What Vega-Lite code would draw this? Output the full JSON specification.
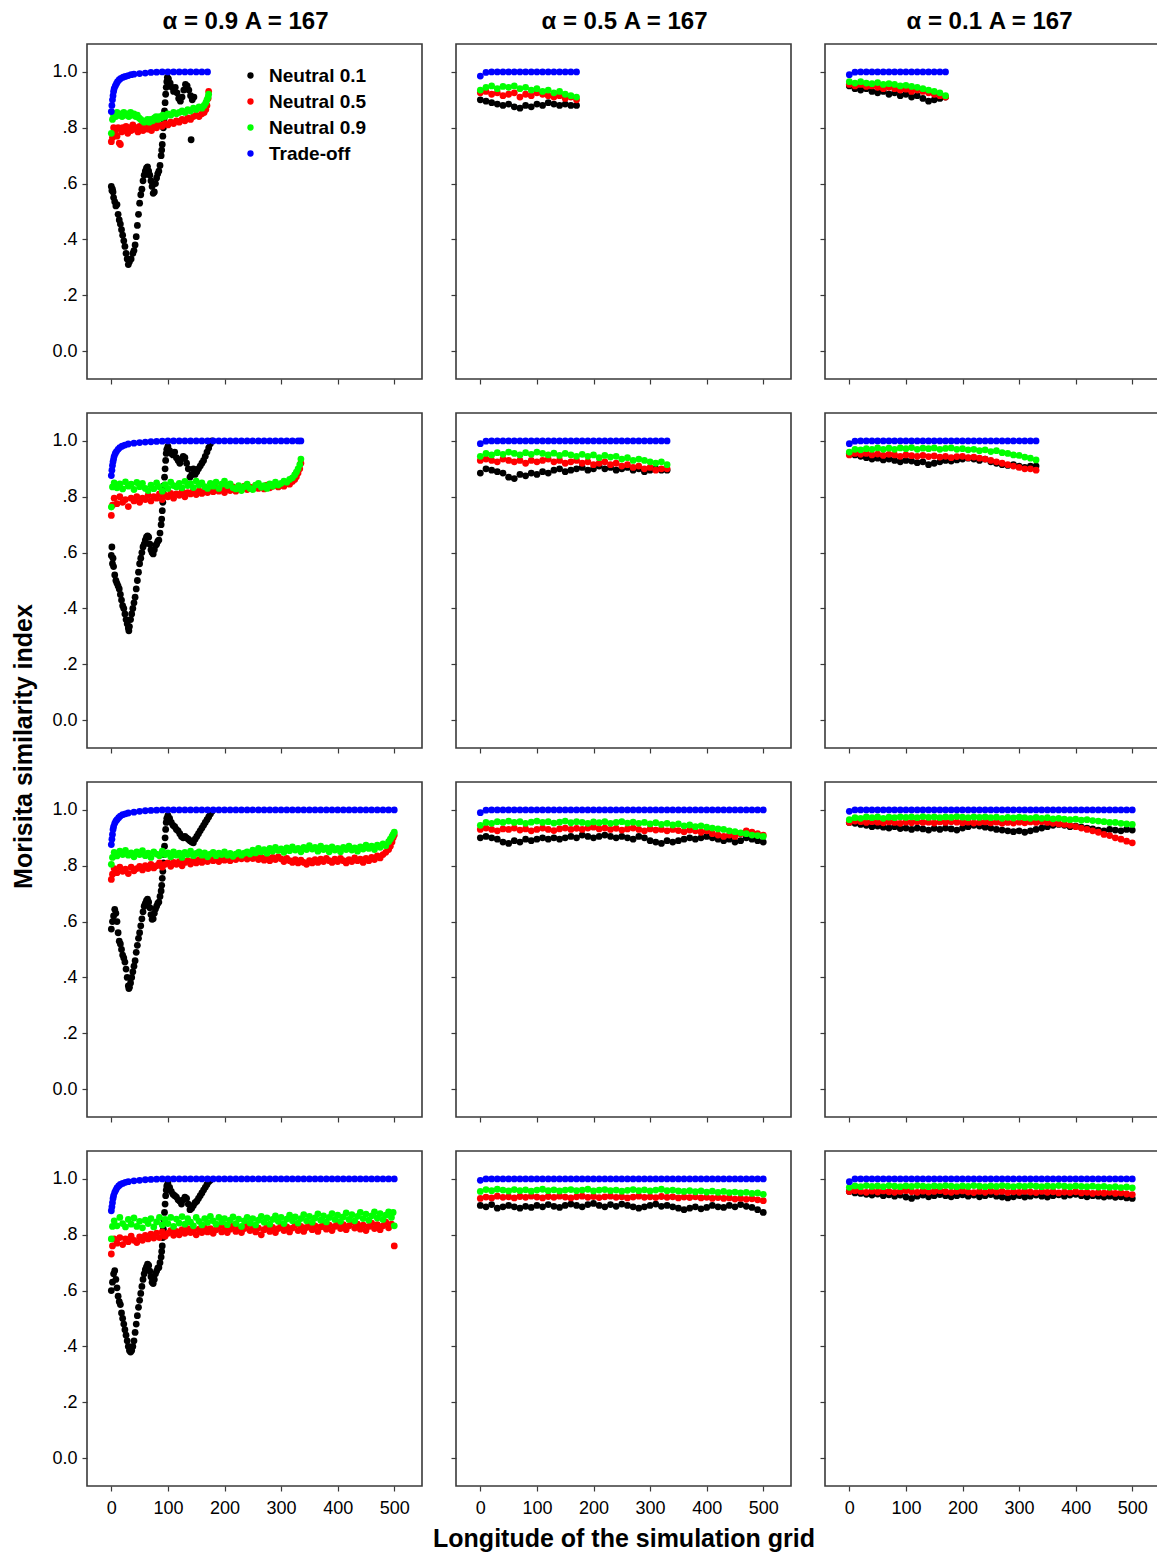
{
"$schema": "https://vega.github.io/schema/vega-lite/v6.json",
"padding": {"left": 10, "top": 9, "right": 0, "bottom": 0},
"background": "white",
"columns": 3,
"spacing": 34,
"bounds": "flush",
"config": {
  "view": {"stroke": "#3a3a3a", "strokeWidth": 1.6},
  "range": {"category": ["#000000", "#ff0000", "#00ff00", "#0000ff"]},
  "circle": {"size": 46, "opacity": 1},
  "axis": {"domain": false, "grid": false, "tickSize": 5, "tickColor": "#3a3a3a", "tickWidth": 1.2, "labelFont": "Liberation Sans", "labelFontSize": 18, "labelColor": "#000000", "labelPadding": 5, "titleFont": "Liberation Sans", "titleFontSize": 25, "titleFontWeight": "bold", "titleColor": "#000000"},
  "legend": {"padding": 0, "labelFont": "Liberation Sans", "labelFontSize": 19, "labelFontWeight": "bold", "labelColor": "#000000", "symbolType": "circle", "symbolSize": 40, "symbolStrokeWidth": 0, "labelOffset": 9, "rowPadding": 6},
  "title": {"font": "Liberation Sans", "fontSize": 24, "fontWeight": "bold", "color": "#000000", "anchor": "middle", "offset": 10}
},
"concat": [
{"data": {"name": "p11"}, "width": 335, "height": 335, "title": {"text": "α = 0.9 A = 167", "dx": -9}, "mark": "circle",
 "encoding": {"x": {"field": "x", "type": "quantitative", "scale": {"domain": [-43, 549], "nice": false, "zero": false}, "axis": {"values": [0,100,200,300,400,500], "labels": false, "title": null}},
  "y": {"field": "y", "type": "quantitative", "scale": {"domain": [-0.1, 1.1], "nice": false, "zero": false}, "axis": {"values": [0,0.2,0.4,0.6,0.8,1], "labelExpr": "datum.value == 0 ? '0.0' : datum.value == 1 ? '1.0' : '.' + round(datum.value * 10)", "title": null}},
  "color": {"field": "s", "type": "nominal", "title": null, "legend": {"orient": "none", "legendX": 154, "legendY": 22, "labelExpr": "datum.label == 'n1' ? 'Neutral 0.1' : datum.label == 'n5' ? 'Neutral 0.5' : datum.label == 'n9' ? 'Neutral 0.9' : 'Trade-off'"}}}},
{"data": {"name": "p12"}, "width": 335, "height": 335, "title": {"text": "α = 0.5 A = 167", "dx": 1}, "mark": "circle",
 "encoding": {"x": {"field": "x", "type": "quantitative", "scale": {"domain": [-43, 549], "nice": false, "zero": false}, "axis": {"values": [0,100,200,300,400,500], "labels": false, "title": null}},
  "y": {"field": "y", "type": "quantitative", "scale": {"domain": [-0.1, 1.1], "nice": false, "zero": false}, "axis": {"values": [0,0.2,0.4,0.6,0.8,1], "labels": false, "title": null}},
  "color": {"field": "s", "type": "nominal", "title": null, "legend": {"orient": "none", "legendX": 154, "legendY": 22, "labelExpr": "datum.label == 'n1' ? 'Neutral 0.1' : datum.label == 'n5' ? 'Neutral 0.5' : datum.label == 'n9' ? 'Neutral 0.9' : 'Trade-off'"}}}},
{"data": {"name": "p13"}, "width": 335, "height": 335, "title": {"text": "α = 0.1 A = 167", "dx": -3}, "mark": "circle",
 "encoding": {"x": {"field": "x", "type": "quantitative", "scale": {"domain": [-43, 549], "nice": false, "zero": false}, "axis": {"values": [0,100,200,300,400,500], "labels": false, "title": null}},
  "y": {"field": "y", "type": "quantitative", "scale": {"domain": [-0.1, 1.1], "nice": false, "zero": false}, "axis": {"values": [0,0.2,0.4,0.6,0.8,1], "labels": false, "title": null}},
  "color": {"field": "s", "type": "nominal", "title": null, "legend": {"orient": "none", "legendX": 154, "legendY": 22, "labelExpr": "datum.label == 'n1' ? 'Neutral 0.1' : datum.label == 'n5' ? 'Neutral 0.5' : datum.label == 'n9' ? 'Neutral 0.9' : 'Trade-off'"}}}},
{"data": {"name": "p21"}, "width": 335, "height": 335, "mark": "circle",
 "encoding": {"x": {"field": "x", "type": "quantitative", "scale": {"domain": [-43, 549], "nice": false, "zero": false}, "axis": {"values": [0,100,200,300,400,500], "labels": false, "title": null}},
  "y": {"field": "y", "type": "quantitative", "scale": {"domain": [-0.1, 1.1], "nice": false, "zero": false}, "axis": {"values": [0,0.2,0.4,0.6,0.8,1], "labelExpr": "datum.value == 0 ? '0.0' : datum.value == 1 ? '1.0' : '.' + round(datum.value * 10)", "title": "Morisita similarity index", "titleX": -64, "titleY": 333, "titleBaseline": "middle", "titleAlign": "center", "titleAngle": 270}},
  "color": {"field": "s", "type": "nominal", "title": null, "legend": {"orient": "none", "legendX": 154, "legendY": 22, "labelExpr": "datum.label == 'n1' ? 'Neutral 0.1' : datum.label == 'n5' ? 'Neutral 0.5' : datum.label == 'n9' ? 'Neutral 0.9' : 'Trade-off'"}}}},
{"data": {"name": "p22"}, "width": 335, "height": 335, "mark": "circle",
 "encoding": {"x": {"field": "x", "type": "quantitative", "scale": {"domain": [-43, 549], "nice": false, "zero": false}, "axis": {"values": [0,100,200,300,400,500], "labels": false, "title": null}},
  "y": {"field": "y", "type": "quantitative", "scale": {"domain": [-0.1, 1.1], "nice": false, "zero": false}, "axis": {"values": [0,0.2,0.4,0.6,0.8,1], "labels": false, "title": null}},
  "color": {"field": "s", "type": "nominal", "title": null, "legend": {"orient": "none", "legendX": 154, "legendY": 22, "labelExpr": "datum.label == 'n1' ? 'Neutral 0.1' : datum.label == 'n5' ? 'Neutral 0.5' : datum.label == 'n9' ? 'Neutral 0.9' : 'Trade-off'"}}}},
{"data": {"name": "p23"}, "width": 335, "height": 335, "mark": "circle",
 "encoding": {"x": {"field": "x", "type": "quantitative", "scale": {"domain": [-43, 549], "nice": false, "zero": false}, "axis": {"values": [0,100,200,300,400,500], "labels": false, "title": null}},
  "y": {"field": "y", "type": "quantitative", "scale": {"domain": [-0.1, 1.1], "nice": false, "zero": false}, "axis": {"values": [0,0.2,0.4,0.6,0.8,1], "labels": false, "title": null}},
  "color": {"field": "s", "type": "nominal", "title": null, "legend": {"orient": "none", "legendX": 154, "legendY": 22, "labelExpr": "datum.label == 'n1' ? 'Neutral 0.1' : datum.label == 'n5' ? 'Neutral 0.5' : datum.label == 'n9' ? 'Neutral 0.9' : 'Trade-off'"}}}},
{"data": {"name": "p31"}, "width": 335, "height": 335, "mark": "circle",
 "encoding": {"x": {"field": "x", "type": "quantitative", "scale": {"domain": [-43, 549], "nice": false, "zero": false}, "axis": {"values": [0,100,200,300,400,500], "labels": false, "title": null}},
  "y": {"field": "y", "type": "quantitative", "scale": {"domain": [-0.1, 1.1], "nice": false, "zero": false}, "axis": {"values": [0,0.2,0.4,0.6,0.8,1], "labelExpr": "datum.value == 0 ? '0.0' : datum.value == 1 ? '1.0' : '.' + round(datum.value * 10)", "title": null}},
  "color": {"field": "s", "type": "nominal", "title": null, "legend": {"orient": "none", "legendX": 154, "legendY": 22, "labelExpr": "datum.label == 'n1' ? 'Neutral 0.1' : datum.label == 'n5' ? 'Neutral 0.5' : datum.label == 'n9' ? 'Neutral 0.9' : 'Trade-off'"}}}},
{"data": {"name": "p32"}, "width": 335, "height": 335, "mark": "circle",
 "encoding": {"x": {"field": "x", "type": "quantitative", "scale": {"domain": [-43, 549], "nice": false, "zero": false}, "axis": {"values": [0,100,200,300,400,500], "labels": false, "title": null}},
  "y": {"field": "y", "type": "quantitative", "scale": {"domain": [-0.1, 1.1], "nice": false, "zero": false}, "axis": {"values": [0,0.2,0.4,0.6,0.8,1], "labels": false, "title": null}},
  "color": {"field": "s", "type": "nominal", "title": null, "legend": {"orient": "none", "legendX": 154, "legendY": 22, "labelExpr": "datum.label == 'n1' ? 'Neutral 0.1' : datum.label == 'n5' ? 'Neutral 0.5' : datum.label == 'n9' ? 'Neutral 0.9' : 'Trade-off'"}}}},
{"data": {"name": "p33"}, "width": 335, "height": 335, "mark": "circle",
 "encoding": {"x": {"field": "x", "type": "quantitative", "scale": {"domain": [-43, 549], "nice": false, "zero": false}, "axis": {"values": [0,100,200,300,400,500], "labels": false, "title": null}},
  "y": {"field": "y", "type": "quantitative", "scale": {"domain": [-0.1, 1.1], "nice": false, "zero": false}, "axis": {"values": [0,0.2,0.4,0.6,0.8,1], "labels": false, "title": null}},
  "color": {"field": "s", "type": "nominal", "title": null, "legend": {"orient": "none", "legendX": 154, "legendY": 22, "labelExpr": "datum.label == 'n1' ? 'Neutral 0.1' : datum.label == 'n5' ? 'Neutral 0.5' : datum.label == 'n9' ? 'Neutral 0.9' : 'Trade-off'"}}}},
{"data": {"name": "p41"}, "width": 335, "height": 335, "mark": "circle",
 "encoding": {"x": {"field": "x", "type": "quantitative", "scale": {"domain": [-43, 549], "nice": false, "zero": false}, "axis": {"values": [0,100,200,300,400,500], "title": null, "labelPadding": 8}},
  "y": {"field": "y", "type": "quantitative", "scale": {"domain": [-0.1, 1.1], "nice": false, "zero": false}, "axis": {"values": [0,0.2,0.4,0.6,0.8,1], "labelExpr": "datum.value == 0 ? '0.0' : datum.value == 1 ? '1.0' : '.' + round(datum.value * 10)", "title": null}},
  "color": {"field": "s", "type": "nominal", "title": null, "legend": {"orient": "none", "legendX": 154, "legendY": 22, "labelExpr": "datum.label == 'n1' ? 'Neutral 0.1' : datum.label == 'n5' ? 'Neutral 0.5' : datum.label == 'n9' ? 'Neutral 0.9' : 'Trade-off'"}}}},
{"data": {"name": "p42"}, "width": 335, "height": 335, "mark": "circle",
 "encoding": {"x": {"field": "x", "type": "quantitative", "scale": {"domain": [-43, 549], "nice": false, "zero": false}, "axis": {"values": [0,100,200,300,400,500], "labelPadding": 8, "title": "Longitude of the simulation grid", "titleY": 52, "titleBaseline": "middle"}},
  "y": {"field": "y", "type": "quantitative", "scale": {"domain": [-0.1, 1.1], "nice": false, "zero": false}, "axis": {"values": [0,0.2,0.4,0.6,0.8,1], "labels": false, "title": null}},
  "color": {"field": "s", "type": "nominal", "title": null, "legend": {"orient": "none", "legendX": 154, "legendY": 22, "labelExpr": "datum.label == 'n1' ? 'Neutral 0.1' : datum.label == 'n5' ? 'Neutral 0.5' : datum.label == 'n9' ? 'Neutral 0.9' : 'Trade-off'"}}}},
{"data": {"name": "p43"}, "width": 335, "height": 335, "mark": "circle",
 "encoding": {"x": {"field": "x", "type": "quantitative", "scale": {"domain": [-43, 549], "nice": false, "zero": false}, "axis": {"values": [0,100,200,300,400,500], "labelPadding": 8, "title": null}},
  "y": {"field": "y", "type": "quantitative", "scale": {"domain": [-0.1, 1.1], "nice": false, "zero": false}, "axis": {"values": [0,0.2,0.4,0.6,0.8,1], "labels": false, "title": null}},
  "color": {"field": "s", "type": "nominal", "title": null, "legend": {"orient": "none", "legendX": 154, "legendY": 22, "labelExpr": "datum.label == 'n1' ? 'Neutral 0.1' : datum.label == 'n5' ? 'Neutral 0.5' : datum.label == 'n9' ? 'Neutral 0.9' : 'Trade-off'"}}}}
],
"datasets": {
"p11": [
{"s":"n1","x":0,"y":0.59},{"s":"n1","x":1,"y":0.575},{"s":"n1","x":2,"y":0.58},{"s":"n1","x":3,"y":0.57},{"s":"n1","x":4,"y":0.55},{"s":"n1","x":6,"y":0.535},{"s":"n1","x":8,"y":0.52},{"s":"n1","x":10,"y":0.525},{"s":"n1","x":12,"y":0.49},{"s":"n1","x":14,"y":0.47},{"s":"n1","x":16,"y":0.455},{"s":"n1","x":18,"y":0.435},{"s":"n1","x":20,"y":0.415},{"s":"n1","x":22,"y":0.395},{"s":"n1","x":24,"y":0.375},{"s":"n1","x":26,"y":0.35},{"s":"n1","x":28,"y":0.33},{"s":"n1","x":30,"y":0.31},{"s":"n1","x":32,"y":0.32},{"s":"n1","x":35,"y":0.33},{"s":"n1","x":38,"y":0.35},{"s":"n1","x":40,"y":0.36},{"s":"n1","x":42,"y":0.38},{"s":"n1","x":44,"y":0.41},{"s":"n1","x":46,"y":0.45},{"s":"n1","x":48,"y":0.49},{"s":"n1","x":50,"y":0.53},{"s":"n1","x":52,"y":0.56},{"s":"n1","x":54,"y":0.58},{"s":"n1","x":56,"y":0.61},{"s":"n1","x":58,"y":0.63},{"s":"n1","x":60,"y":0.645},{"s":"n1","x":62,"y":0.655},{"s":"n1","x":64,"y":0.66},{"s":"n1","x":66,"y":0.645},{"s":"n1","x":68,"y":0.63},{"s":"n1","x":70,"y":0.61},{"s":"n1","x":72,"y":0.59},{"s":"n1","x":74,"y":0.565},{"s":"n1","x":76,"y":0.57},{"s":"n1","x":78,"y":0.6},{"s":"n1","x":80,"y":0.62},{"s":"n1","x":82,"y":0.635},{"s":"n1","x":84,"y":0.645},{"s":"n1","x":86,"y":0.665},{"s":"n1","x":88,"y":0.7},{"s":"n1","x":89,"y":0.72},{"s":"n1","x":90,"y":0.74},{"s":"n1","x":91,"y":0.77},{"s":"n1","x":92,"y":0.8},{"s":"n1","x":93,"y":0.83},{"s":"n1","x":94,"y":0.86},{"s":"n1","x":95,"y":0.89},{"s":"n1","x":96,"y":0.92},{"s":"n1","x":97,"y":0.945},{"s":"n1","x":98,"y":0.965},{"s":"n1","x":99,"y":0.98},{"s":"n1","x":101,"y":0.975},{"s":"n1","x":104,"y":0.96},{"s":"n1","x":107,"y":0.945},{"s":"n1","x":110,"y":0.93},{"s":"n1","x":113,"y":0.945},{"s":"n1","x":116,"y":0.925},{"s":"n1","x":119,"y":0.905},{"s":"n1","x":122,"y":0.895},{"s":"n1","x":125,"y":0.91},{"s":"n1","x":128,"y":0.935},{"s":"n1","x":131,"y":0.955},{"s":"n1","x":134,"y":0.95},{"s":"n1","x":137,"y":0.935},{"s":"n1","x":140,"y":0.915},{"s":"n1","x":141,"y":0.757},{"s":"n1","x":143,"y":0.9},{"s":"n1","x":146,"y":0.91},
{"s":"n5","x":0,"y":0.75},{"s":"n5","x":2,"y":0.765},{"s":"n5","x":4,"y":0.8},{"s":"n5","x":6,"y":0.78},{"s":"n5","x":8,"y":0.795},{"s":"n5","x":10,"y":0.77},{"s":"n5","x":12,"y":0.8},{"s":"n5","x":14,"y":0.745},{"s":"n5","x":16,"y":0.74},{"s":"n5","x":18,"y":0.785},{"s":"n5","x":20,"y":0.8},{"s":"n5","x":23,"y":0.79},{"s":"n5","x":26,"y":0.805},{"s":"n5","x":29,"y":0.78},{"s":"n5","x":32,"y":0.8},{"s":"n5","x":35,"y":0.79},{"s":"n5","x":38,"y":0.81},{"s":"n5","x":41,"y":0.795},{"s":"n5","x":44,"y":0.8},{"s":"n5","x":47,"y":0.785},{"s":"n5","x":50,"y":0.805},{"s":"n5","x":53,"y":0.795},{"s":"n5","x":56,"y":0.79},{"s":"n5","x":59,"y":0.8},{"s":"n5","x":62,"y":0.81},{"s":"n5","x":65,"y":0.795},{"s":"n5","x":68,"y":0.8},{"s":"n5","x":71,"y":0.79},{"s":"n5","x":74,"y":0.805},{"s":"n5","x":77,"y":0.81},{"s":"n5","x":80,"y":0.8},{"s":"n5","x":85,"y":0.81},{"s":"n5","x":90,"y":0.805},{"s":"n5","x":95,"y":0.815},{"s":"n5","x":100,"y":0.81},{"s":"n5","x":105,"y":0.82},{"s":"n5","x":110,"y":0.815},{"s":"n5","x":115,"y":0.825},{"s":"n5","x":120,"y":0.82},{"s":"n5","x":125,"y":0.83},{"s":"n5","x":130,"y":0.825},{"s":"n5","x":135,"y":0.835},{"s":"n5","x":140,"y":0.83},{"s":"n5","x":145,"y":0.84},{"s":"n5","x":150,"y":0.845},{"s":"n5","x":155,"y":0.84},{"s":"n5","x":160,"y":0.85},{"s":"n5","x":164,"y":0.855},{"s":"n5","x":167,"y":0.865},{"s":"n5","x":169,"y":0.88},{"s":"n5","x":171,"y":0.905},{"s":"n5","x":172,"y":0.93},
{"s":"n9","x":0,"y":0.78},{"s":"n9","x":2,"y":0.83},{"s":"n9","x":4,"y":0.845},{"s":"n9","x":6,"y":0.85},{"s":"n9","x":8,"y":0.84},{"s":"n9","x":10,"y":0.855},{"s":"n9","x":13,"y":0.845},{"s":"n9","x":16,"y":0.85},{"s":"n9","x":19,"y":0.84},{"s":"n9","x":22,"y":0.855},{"s":"n9","x":25,"y":0.845},{"s":"n9","x":28,"y":0.85},{"s":"n9","x":31,"y":0.84},{"s":"n9","x":34,"y":0.855},{"s":"n9","x":37,"y":0.845},{"s":"n9","x":40,"y":0.85},{"s":"n9","x":43,"y":0.84},{"s":"n9","x":46,"y":0.845},{"s":"n9","x":49,"y":0.835},{"s":"n9","x":52,"y":0.83},{"s":"n9","x":55,"y":0.825},{"s":"n9","x":58,"y":0.82},{"s":"n9","x":61,"y":0.825},{"s":"n9","x":64,"y":0.83},{"s":"n9","x":67,"y":0.82},{"s":"n9","x":70,"y":0.83},{"s":"n9","x":73,"y":0.825},{"s":"n9","x":76,"y":0.835},{"s":"n9","x":79,"y":0.84},{"s":"n9","x":82,"y":0.83},{"s":"n9","x":85,"y":0.84},{"s":"n9","x":88,"y":0.835},{"s":"n9","x":91,"y":0.845},{"s":"n9","x":95,"y":0.84},{"s":"n9","x":100,"y":0.85},{"s":"n9","x":105,"y":0.845},{"s":"n9","x":110,"y":0.855},{"s":"n9","x":115,"y":0.85},{"s":"n9","x":120,"y":0.855},{"s":"n9","x":125,"y":0.86},{"s":"n9","x":130,"y":0.855},{"s":"n9","x":135,"y":0.865},{"s":"n9","x":140,"y":0.86},{"s":"n9","x":145,"y":0.87},{"s":"n9","x":150,"y":0.865},{"s":"n9","x":155,"y":0.875},{"s":"n9","x":160,"y":0.87},{"s":"n9","x":164,"y":0.88},{"s":"n9","x":167,"y":0.89},{"s":"n9","x":169,"y":0.9},{"s":"n9","x":171,"y":0.91},{"s":"n9","x":172,"y":0.92},
{"s":"t","x":0,"y":0.858},{"s":"t","x":1,"y":0.88},{"s":"t","x":2,"y":0.9},{"s":"t","x":3,"y":0.915},{"s":"t","x":4,"y":0.93},{"s":"t","x":5,"y":0.94},{"s":"t","x":7,"y":0.95},{"s":"t","x":9,"y":0.958},{"s":"t","x":11,"y":0.965},{"s":"t","x":14,"y":0.972},{"s":"t","x":17,"y":0.977},{"s":"t","x":21,"y":0.981},{"s":"t","x":25,"y":0.984},{"s":"t","x":30,"y":0.987},{"s":"t","x":35,"y":0.99},{"s":"t","x":40,"y":0.992},{"s":"t","x":50,"y":0.994},{"s":"t","x":60,"y":0.996},{"s":"t","x":70,"y":0.998},{"s":"t","x":80,"y":0.999},{"s":"t","x":90,"y":1},{"s":"t","x":100,"y":1},{"s":"t","x":110,"y":1},{"s":"t","x":120,"y":1},{"s":"t","x":130,"y":1},{"s":"t","x":140,"y":1},{"s":"t","x":150,"y":1},{"s":"t","x":160,"y":1},{"s":"t","x":170,"y":1}
],
"p12": [
{"s":"n1","x":0,"y":0.9},{"s":"n1","x":10,"y":0.895},{"s":"n1","x":20,"y":0.89},{"s":"n1","x":30,"y":0.885},{"s":"n1","x":40,"y":0.88},{"s":"n1","x":50,"y":0.885},{"s":"n1","x":60,"y":0.875},{"s":"n1","x":70,"y":0.87},{"s":"n1","x":80,"y":0.88},{"s":"n1","x":90,"y":0.875},{"s":"n1","x":100,"y":0.885},{"s":"n1","x":110,"y":0.88},{"s":"n1","x":120,"y":0.89},{"s":"n1","x":130,"y":0.885},{"s":"n1","x":140,"y":0.88},{"s":"n1","x":150,"y":0.885},{"s":"n1","x":160,"y":0.88},{"s":"n1","x":170,"y":0.88},
{"s":"n5","x":0,"y":0.925},{"s":"n5","x":10,"y":0.93},{"s":"n5","x":20,"y":0.92},{"s":"n5","x":30,"y":0.925},{"s":"n5","x":40,"y":0.915},{"s":"n5","x":50,"y":0.92},{"s":"n5","x":60,"y":0.925},{"s":"n5","x":70,"y":0.91},{"s":"n5","x":80,"y":0.92},{"s":"n5","x":90,"y":0.915},{"s":"n5","x":100,"y":0.925},{"s":"n5","x":110,"y":0.92},{"s":"n5","x":120,"y":0.915},{"s":"n5","x":130,"y":0.91},{"s":"n5","x":140,"y":0.915},{"s":"n5","x":150,"y":0.905},{"s":"n5","x":160,"y":0.91},{"s":"n5","x":170,"y":0.9},
{"s":"n9","x":0,"y":0.935},{"s":"n9","x":10,"y":0.945},{"s":"n9","x":20,"y":0.95},{"s":"n9","x":30,"y":0.94},{"s":"n9","x":40,"y":0.948},{"s":"n9","x":50,"y":0.945},{"s":"n9","x":60,"y":0.95},{"s":"n9","x":70,"y":0.94},{"s":"n9","x":80,"y":0.945},{"s":"n9","x":90,"y":0.935},{"s":"n9","x":100,"y":0.94},{"s":"n9","x":110,"y":0.93},{"s":"n9","x":120,"y":0.935},{"s":"n9","x":130,"y":0.925},{"s":"n9","x":140,"y":0.93},{"s":"n9","x":150,"y":0.92},{"s":"n9","x":160,"y":0.915},{"s":"n9","x":170,"y":0.91},
{"s":"t","x":0,"y":0.985},{"s":"t","x":10,"y":0.998},{"s":"t","x":20,"y":1},{"s":"t","x":30,"y":1},{"s":"t","x":40,"y":1},{"s":"t","x":50,"y":1},{"s":"t","x":60,"y":1},{"s":"t","x":70,"y":1},{"s":"t","x":80,"y":1},{"s":"t","x":90,"y":1},{"s":"t","x":100,"y":1},{"s":"t","x":110,"y":1},{"s":"t","x":120,"y":1},{"s":"t","x":130,"y":1},{"s":"t","x":140,"y":1},{"s":"t","x":150,"y":1},{"s":"t","x":160,"y":1},{"s":"t","x":170,"y":1}
],
"p13": [
{"s":"n1","x":0,"y":0.95},{"s":"n1","x":10,"y":0.94},{"s":"n1","x":20,"y":0.935},{"s":"n1","x":30,"y":0.94},{"s":"n1","x":40,"y":0.93},{"s":"n1","x":50,"y":0.925},{"s":"n1","x":60,"y":0.93},{"s":"n1","x":70,"y":0.92},{"s":"n1","x":80,"y":0.925},{"s":"n1","x":90,"y":0.915},{"s":"n1","x":100,"y":0.92},{"s":"n1","x":110,"y":0.91},{"s":"n1","x":120,"y":0.915},{"s":"n1","x":130,"y":0.905},{"s":"n1","x":140,"y":0.895},{"s":"n1","x":150,"y":0.9},{"s":"n1","x":160,"y":0.905},{"s":"n1","x":170,"y":0.91},
{"s":"n5","x":0,"y":0.955},{"s":"n5","x":10,"y":0.95},{"s":"n5","x":20,"y":0.955},{"s":"n5","x":30,"y":0.948},{"s":"n5","x":40,"y":0.95},{"s":"n5","x":50,"y":0.945},{"s":"n5","x":60,"y":0.94},{"s":"n5","x":70,"y":0.945},{"s":"n5","x":80,"y":0.94},{"s":"n5","x":90,"y":0.935},{"s":"n5","x":100,"y":0.938},{"s":"n5","x":110,"y":0.93},{"s":"n5","x":120,"y":0.935},{"s":"n5","x":130,"y":0.93},{"s":"n5","x":140,"y":0.925},{"s":"n5","x":150,"y":0.92},{"s":"n5","x":160,"y":0.915},{"s":"n5","x":170,"y":0.91},
{"s":"n9","x":0,"y":0.965},{"s":"n9","x":10,"y":0.96},{"s":"n9","x":20,"y":0.965},{"s":"n9","x":30,"y":0.96},{"s":"n9","x":40,"y":0.958},{"s":"n9","x":50,"y":0.962},{"s":"n9","x":60,"y":0.955},{"s":"n9","x":70,"y":0.958},{"s":"n9","x":80,"y":0.955},{"s":"n9","x":90,"y":0.95},{"s":"n9","x":100,"y":0.952},{"s":"n9","x":110,"y":0.948},{"s":"n9","x":120,"y":0.945},{"s":"n9","x":130,"y":0.94},{"s":"n9","x":140,"y":0.935},{"s":"n9","x":150,"y":0.93},{"s":"n9","x":160,"y":0.925},{"s":"n9","x":170,"y":0.915},
{"s":"t","x":0,"y":0.99},{"s":"t","x":10,"y":0.999},{"s":"t","x":20,"y":1},{"s":"t","x":30,"y":1},{"s":"t","x":40,"y":1},{"s":"t","x":50,"y":1},{"s":"t","x":60,"y":1},{"s":"t","x":70,"y":1},{"s":"t","x":80,"y":1},{"s":"t","x":90,"y":1},{"s":"t","x":100,"y":1},{"s":"t","x":110,"y":1},{"s":"t","x":120,"y":1},{"s":"t","x":130,"y":1},{"s":"t","x":140,"y":1},{"s":"t","x":150,"y":1},{"s":"t","x":160,"y":1},{"s":"t","x":170,"y":1}
],
"p21": [
{"s":"n1","x":0,"y":0.59},{"s":"n1","x":1,"y":0.62},{"s":"n1","x":2,"y":0.56},{"s":"n1","x":3,"y":0.58},{"s":"n1","x":4,"y":0.55},{"s":"n1","x":6,"y":0.52},{"s":"n1","x":8,"y":0.5},{"s":"n1","x":10,"y":0.49},{"s":"n1","x":12,"y":0.48},{"s":"n1","x":14,"y":0.47},{"s":"n1","x":16,"y":0.45},{"s":"n1","x":18,"y":0.43},{"s":"n1","x":20,"y":0.41},{"s":"n1","x":22,"y":0.4},{"s":"n1","x":24,"y":0.38},{"s":"n1","x":26,"y":0.36},{"s":"n1","x":28,"y":0.345},{"s":"n1","x":30,"y":0.33},{"s":"n1","x":31,"y":0.32},{"s":"n1","x":32,"y":0.335},{"s":"n1","x":34,"y":0.36},{"s":"n1","x":36,"y":0.38},{"s":"n1","x":38,"y":0.4},{"s":"n1","x":40,"y":0.42},{"s":"n1","x":42,"y":0.44},{"s":"n1","x":44,"y":0.47},{"s":"n1","x":46,"y":0.5},{"s":"n1","x":48,"y":0.53},{"s":"n1","x":50,"y":0.56},{"s":"n1","x":52,"y":0.58},{"s":"n1","x":54,"y":0.6},{"s":"n1","x":56,"y":0.62},{"s":"n1","x":58,"y":0.63},{"s":"n1","x":60,"y":0.645},{"s":"n1","x":62,"y":0.655},{"s":"n1","x":64,"y":0.66},{"s":"n1","x":66,"y":0.655},{"s":"n1","x":68,"y":0.63},{"s":"n1","x":70,"y":0.61},{"s":"n1","x":72,"y":0.6},{"s":"n1","x":74,"y":0.595},{"s":"n1","x":76,"y":0.61},{"s":"n1","x":78,"y":0.625},{"s":"n1","x":80,"y":0.63},{"s":"n1","x":82,"y":0.64},{"s":"n1","x":84,"y":0.645},{"s":"n1","x":86,"y":0.67},{"s":"n1","x":88,"y":0.7},{"s":"n1","x":89,"y":0.72},{"s":"n1","x":90,"y":0.75},{"s":"n1","x":91,"y":0.78},{"s":"n1","x":92,"y":0.81},{"s":"n1","x":93,"y":0.84},{"s":"n1","x":94,"y":0.87},{"s":"n1","x":95,"y":0.9},{"s":"n1","x":96,"y":0.93},{"s":"n1","x":97,"y":0.955},{"s":"n1","x":98,"y":0.97},{"s":"n1","x":100,"y":0.98},{"s":"n1","x":103,"y":0.965},{"s":"n1","x":106,"y":0.955},{"s":"n1","x":109,"y":0.95},{"s":"n1","x":112,"y":0.96},{"s":"n1","x":115,"y":0.94},{"s":"n1","x":118,"y":0.93},{"s":"n1","x":121,"y":0.92},{"s":"n1","x":124,"y":0.935},{"s":"n1","x":127,"y":0.945},{"s":"n1","x":130,"y":0.94},{"s":"n1","x":133,"y":0.92},{"s":"n1","x":136,"y":0.9},{"s":"n1","x":139,"y":0.87},{"s":"n1","x":142,"y":0.88},{"s":"n1","x":145,"y":0.9},{"s":"n1","x":148,"y":0.88},{"s":"n1","x":151,"y":0.89},{"s":"n1","x":154,"y":0.9},{"s":"n1","x":157,"y":0.91},{"s":"n1","x":160,"y":0.92},{"s":"n1","x":163,"y":0.93},{"s":"n1","x":166,"y":0.945},{"s":"n1","x":169,"y":0.96},{"s":"n1","x":172,"y":0.975},{"s":"n1","x":175,"y":0.99},{"s":"n1","x":178,"y":1},
{"s":"n5","x":0,"y":0.733},{"s":"n5","x":2,"y":0.77},{"s":"n5","x":5,"y":0.795},{"s":"n5","x":10,"y":0.775},{"s":"n5","x":15,"y":0.8},{"s":"n5","x":20,"y":0.78},{"s":"n5","x":25,"y":0.79},{"s":"n5","x":30,"y":0.765},{"s":"n5","x":35,"y":0.795},{"s":"n5","x":40,"y":0.785},{"s":"n5","x":45,"y":0.8},{"s":"n5","x":50,"y":0.78},{"s":"n5","x":55,"y":0.795},{"s":"n5","x":60,"y":0.79},{"s":"n5","x":65,"y":0.805},{"s":"n5","x":70,"y":0.785},{"s":"n5","x":75,"y":0.8},{"s":"n5","x":80,"y":0.795},{"s":"n5","x":85,"y":0.81},{"s":"n5","x":90,"y":0.79},{"s":"n5","x":95,"y":0.805},{"s":"n5","x":100,"y":0.8},{"s":"n5","x":105,"y":0.812},{"s":"n5","x":110,"y":0.795},{"s":"n5","x":115,"y":0.81},{"s":"n5","x":120,"y":0.805},{"s":"n5","x":125,"y":0.818},{"s":"n5","x":130,"y":0.8},{"s":"n5","x":135,"y":0.815},{"s":"n5","x":140,"y":0.81},{"s":"n5","x":145,"y":0.822},{"s":"n5","x":150,"y":0.808},{"s":"n5","x":155,"y":0.82},{"s":"n5","x":160,"y":0.812},{"s":"n5","x":165,"y":0.825},{"s":"n5","x":170,"y":0.815},{"s":"n5","x":175,"y":0.828},{"s":"n5","x":180,"y":0.818},{"s":"n5","x":185,"y":0.83},{"s":"n5","x":190,"y":0.82},{"s":"n5","x":195,"y":0.826},{"s":"n5","x":200,"y":0.815},{"s":"n5","x":205,"y":0.83},{"s":"n5","x":210,"y":0.822},{"s":"n5","x":215,"y":0.835},{"s":"n5","x":220,"y":0.82},{"s":"n5","x":225,"y":0.832},{"s":"n5","x":230,"y":0.825},{"s":"n5","x":235,"y":0.838},{"s":"n5","x":240,"y":0.826},{"s":"n5","x":245,"y":0.834},{"s":"n5","x":250,"y":0.828},{"s":"n5","x":255,"y":0.84},{"s":"n5","x":260,"y":0.83},{"s":"n5","x":265,"y":0.836},{"s":"n5","x":270,"y":0.828},{"s":"n5","x":275,"y":0.842},{"s":"n5","x":280,"y":0.832},{"s":"n5","x":285,"y":0.838},{"s":"n5","x":290,"y":0.845},{"s":"n5","x":295,"y":0.835},{"s":"n5","x":300,"y":0.842},{"s":"n5","x":305,"y":0.838},{"s":"n5","x":310,"y":0.848},{"s":"n5","x":315,"y":0.845},{"s":"n5","x":320,"y":0.855},{"s":"n5","x":324,"y":0.862},{"s":"n5","x":327,"y":0.872},{"s":"n5","x":330,"y":0.885},{"s":"n5","x":333,"y":0.9},{"s":"n5","x":335,"y":0.92},
{"s":"n9","x":0,"y":0.763},{"s":"n9","x":2,"y":0.835},{"s":"n9","x":5,"y":0.85},{"s":"n9","x":10,"y":0.832},{"s":"n9","x":15,"y":0.846},{"s":"n9","x":20,"y":0.828},{"s":"n9","x":25,"y":0.853},{"s":"n9","x":30,"y":0.838},{"s":"n9","x":35,"y":0.845},{"s":"n9","x":40,"y":0.826},{"s":"n9","x":45,"y":0.851},{"s":"n9","x":50,"y":0.836},{"s":"n9","x":55,"y":0.848},{"s":"n9","x":60,"y":0.83},{"s":"n9","x":65,"y":0.822},{"s":"n9","x":70,"y":0.842},{"s":"n9","x":75,"y":0.829},{"s":"n9","x":80,"y":0.85},{"s":"n9","x":85,"y":0.836},{"s":"n9","x":90,"y":0.82},{"s":"n9","x":95,"y":0.843},{"s":"n9","x":100,"y":0.83},{"s":"n9","x":105,"y":0.852},{"s":"n9","x":110,"y":0.84},{"s":"n9","x":115,"y":0.835},{"s":"n9","x":120,"y":0.848},{"s":"n9","x":125,"y":0.832},{"s":"n9","x":130,"y":0.855},{"s":"n9","x":135,"y":0.84},{"s":"n9","x":140,"y":0.847},{"s":"n9","x":145,"y":0.833},{"s":"n9","x":150,"y":0.856},{"s":"n9","x":155,"y":0.842},{"s":"n9","x":160,"y":0.85},{"s":"n9","x":165,"y":0.836},{"s":"n9","x":170,"y":0.83},{"s":"n9","x":175,"y":0.848},{"s":"n9","x":180,"y":0.838},{"s":"n9","x":185,"y":0.852},{"s":"n9","x":190,"y":0.83},{"s":"n9","x":195,"y":0.845},{"s":"n9","x":200,"y":0.856},{"s":"n9","x":205,"y":0.84},{"s":"n9","x":210,"y":0.846},{"s":"n9","x":215,"y":0.832},{"s":"n9","x":220,"y":0.828},{"s":"n9","x":225,"y":0.84},{"s":"n9","x":230,"y":0.822},{"s":"n9","x":235,"y":0.836},{"s":"n9","x":240,"y":0.845},{"s":"n9","x":245,"y":0.83},{"s":"n9","x":250,"y":0.826},{"s":"n9","x":255,"y":0.842},{"s":"n9","x":260,"y":0.848},{"s":"n9","x":265,"y":0.834},{"s":"n9","x":270,"y":0.84},{"s":"n9","x":275,"y":0.83},{"s":"n9","x":280,"y":0.846},{"s":"n9","x":285,"y":0.838},{"s":"n9","x":290,"y":0.852},{"s":"n9","x":295,"y":0.842},{"s":"n9","x":300,"y":0.848},{"s":"n9","x":305,"y":0.856},{"s":"n9","x":310,"y":0.852},{"s":"n9","x":315,"y":0.862},{"s":"n9","x":320,"y":0.868},{"s":"n9","x":324,"y":0.878},{"s":"n9","x":327,"y":0.888},{"s":"n9","x":330,"y":0.9},{"s":"n9","x":333,"y":0.915},{"s":"n9","x":335,"y":0.935},
{"s":"t","x":0,"y":0.876},{"s":"t","x":1,"y":0.895},{"s":"t","x":2,"y":0.912},{"s":"t","x":3,"y":0.925},{"s":"t","x":4,"y":0.935},{"s":"t","x":5,"y":0.945},{"s":"t","x":7,"y":0.955},{"s":"t","x":9,"y":0.962},{"s":"t","x":12,"y":0.97},{"s":"t","x":15,"y":0.976},{"s":"t","x":19,"y":0.981},{"s":"t","x":24,"y":0.985},{"s":"t","x":30,"y":0.989},{"s":"t","x":40,"y":0.992},{"s":"t","x":50,"y":0.994},{"s":"t","x":60,"y":0.996},{"s":"t","x":70,"y":0.997},{"s":"t","x":80,"y":0.998},{"s":"t","x":90,"y":0.999},{"s":"t","x":100,"y":1},{"s":"t","x":110,"y":1},{"s":"t","x":120,"y":1},{"s":"t","x":130,"y":1},{"s":"t","x":140,"y":1},{"s":"t","x":150,"y":1},{"s":"t","x":160,"y":1},{"s":"t","x":170,"y":1},{"s":"t","x":180,"y":1},{"s":"t","x":190,"y":1},{"s":"t","x":200,"y":1},{"s":"t","x":210,"y":1},{"s":"t","x":220,"y":1},{"s":"t","x":230,"y":1},{"s":"t","x":240,"y":1},{"s":"t","x":250,"y":1},{"s":"t","x":260,"y":1},{"s":"t","x":270,"y":1},{"s":"t","x":280,"y":1},{"s":"t","x":290,"y":1},{"s":"t","x":300,"y":1},{"s":"t","x":310,"y":1},{"s":"t","x":320,"y":1},{"s":"t","x":330,"y":1},{"s":"t","x":335,"y":1}
],
"p22": [
{"s":"n1","x":0,"y":0.885},{"s":"n1","x":10,"y":0.9},{"s":"n1","x":20,"y":0.895},{"s":"n1","x":30,"y":0.89},{"s":"n1","x":40,"y":0.885},{"s":"n1","x":50,"y":0.87},{"s":"n1","x":60,"y":0.865},{"s":"n1","x":70,"y":0.88},{"s":"n1","x":80,"y":0.875},{"s":"n1","x":90,"y":0.885},{"s":"n1","x":100,"y":0.88},{"s":"n1","x":110,"y":0.89},{"s":"n1","x":120,"y":0.885},{"s":"n1","x":130,"y":0.895},{"s":"n1","x":140,"y":0.9},{"s":"n1","x":150,"y":0.89},{"s":"n1","x":160,"y":0.895},{"s":"n1","x":170,"y":0.9},{"s":"n1","x":180,"y":0.905},{"s":"n1","x":190,"y":0.895},{"s":"n1","x":200,"y":0.9},{"s":"n1","x":210,"y":0.91},{"s":"n1","x":220,"y":0.9},{"s":"n1","x":230,"y":0.905},{"s":"n1","x":240,"y":0.895},{"s":"n1","x":250,"y":0.9},{"s":"n1","x":260,"y":0.905},{"s":"n1","x":270,"y":0.895},{"s":"n1","x":280,"y":0.9},{"s":"n1","x":290,"y":0.89},{"s":"n1","x":300,"y":0.895},{"s":"n1","x":310,"y":0.9},{"s":"n1","x":320,"y":0.895},{"s":"n1","x":330,"y":0.895},
{"s":"n5","x":0,"y":0.93},{"s":"n5","x":10,"y":0.935},{"s":"n5","x":20,"y":0.93},{"s":"n5","x":30,"y":0.925},{"s":"n5","x":40,"y":0.935},{"s":"n5","x":50,"y":0.93},{"s":"n5","x":60,"y":0.925},{"s":"n5","x":70,"y":0.93},{"s":"n5","x":80,"y":0.92},{"s":"n5","x":90,"y":0.93},{"s":"n5","x":100,"y":0.925},{"s":"n5","x":110,"y":0.93},{"s":"n5","x":120,"y":0.935},{"s":"n5","x":130,"y":0.925},{"s":"n5","x":140,"y":0.93},{"s":"n5","x":150,"y":0.92},{"s":"n5","x":160,"y":0.925},{"s":"n5","x":170,"y":0.93},{"s":"n5","x":180,"y":0.92},{"s":"n5","x":190,"y":0.925},{"s":"n5","x":200,"y":0.915},{"s":"n5","x":210,"y":0.92},{"s":"n5","x":220,"y":0.925},{"s":"n5","x":230,"y":0.915},{"s":"n5","x":240,"y":0.92},{"s":"n5","x":250,"y":0.91},{"s":"n5","x":260,"y":0.915},{"s":"n5","x":270,"y":0.905},{"s":"n5","x":280,"y":0.91},{"s":"n5","x":290,"y":0.9},{"s":"n5","x":300,"y":0.905},{"s":"n5","x":310,"y":0.895},{"s":"n5","x":320,"y":0.9},{"s":"n5","x":330,"y":0.9},
{"s":"n9","x":0,"y":0.945},{"s":"n9","x":10,"y":0.955},{"s":"n9","x":20,"y":0.95},{"s":"n9","x":30,"y":0.958},{"s":"n9","x":40,"y":0.952},{"s":"n9","x":50,"y":0.96},{"s":"n9","x":60,"y":0.955},{"s":"n9","x":70,"y":0.95},{"s":"n9","x":80,"y":0.958},{"s":"n9","x":90,"y":0.952},{"s":"n9","x":100,"y":0.96},{"s":"n9","x":110,"y":0.955},{"s":"n9","x":120,"y":0.95},{"s":"n9","x":130,"y":0.956},{"s":"n9","x":140,"y":0.948},{"s":"n9","x":150,"y":0.955},{"s":"n9","x":160,"y":0.95},{"s":"n9","x":170,"y":0.945},{"s":"n9","x":180,"y":0.952},{"s":"n9","x":190,"y":0.945},{"s":"n9","x":200,"y":0.95},{"s":"n9","x":210,"y":0.94},{"s":"n9","x":220,"y":0.948},{"s":"n9","x":230,"y":0.942},{"s":"n9","x":240,"y":0.945},{"s":"n9","x":250,"y":0.935},{"s":"n9","x":260,"y":0.94},{"s":"n9","x":270,"y":0.93},{"s":"n9","x":280,"y":0.935},{"s":"n9","x":290,"y":0.93},{"s":"n9","x":300,"y":0.925},{"s":"n9","x":310,"y":0.92},{"s":"n9","x":320,"y":0.925},{"s":"n9","x":330,"y":0.915},
{"s":"t","x":0,"y":0.99},{"s":"t","x":10,"y":0.999},{"s":"t","x":20,"y":1},{"s":"t","x":30,"y":1},{"s":"t","x":40,"y":1},{"s":"t","x":50,"y":1},{"s":"t","x":60,"y":1},{"s":"t","x":70,"y":1},{"s":"t","x":80,"y":1},{"s":"t","x":90,"y":1},{"s":"t","x":100,"y":1},{"s":"t","x":110,"y":1},{"s":"t","x":120,"y":1},{"s":"t","x":130,"y":1},{"s":"t","x":140,"y":1},{"s":"t","x":150,"y":1},{"s":"t","x":160,"y":1},{"s":"t","x":170,"y":1},{"s":"t","x":180,"y":1},{"s":"t","x":190,"y":1},{"s":"t","x":200,"y":1},{"s":"t","x":210,"y":1},{"s":"t","x":220,"y":1},{"s":"t","x":230,"y":1},{"s":"t","x":240,"y":1},{"s":"t","x":250,"y":1},{"s":"t","x":260,"y":1},{"s":"t","x":270,"y":1},{"s":"t","x":280,"y":1},{"s":"t","x":290,"y":1},{"s":"t","x":300,"y":1},{"s":"t","x":310,"y":1},{"s":"t","x":320,"y":1},{"s":"t","x":330,"y":1}
],
"p23": [
{"s":"n1","x":0,"y":0.955},{"s":"n1","x":10,"y":0.95},{"s":"n1","x":20,"y":0.945},{"s":"n1","x":30,"y":0.94},{"s":"n1","x":40,"y":0.935},{"s":"n1","x":50,"y":0.938},{"s":"n1","x":60,"y":0.932},{"s":"n1","x":70,"y":0.935},{"s":"n1","x":80,"y":0.93},{"s":"n1","x":90,"y":0.925},{"s":"n1","x":100,"y":0.93},{"s":"n1","x":110,"y":0.928},{"s":"n1","x":120,"y":0.922},{"s":"n1","x":130,"y":0.925},{"s":"n1","x":140,"y":0.915},{"s":"n1","x":150,"y":0.92},{"s":"n1","x":160,"y":0.925},{"s":"n1","x":170,"y":0.93},{"s":"n1","x":180,"y":0.928},{"s":"n1","x":190,"y":0.932},{"s":"n1","x":200,"y":0.935},{"s":"n1","x":210,"y":0.938},{"s":"n1","x":220,"y":0.935},{"s":"n1","x":230,"y":0.93},{"s":"n1","x":240,"y":0.935},{"s":"n1","x":250,"y":0.925},{"s":"n1","x":260,"y":0.92},{"s":"n1","x":270,"y":0.915},{"s":"n1","x":280,"y":0.912},{"s":"n1","x":290,"y":0.915},{"s":"n1","x":300,"y":0.91},{"s":"n1","x":310,"y":0.905},{"s":"n1","x":320,"y":0.91},{"s":"n1","x":330,"y":0.91},
{"s":"n5","x":0,"y":0.95},{"s":"n5","x":10,"y":0.955},{"s":"n5","x":20,"y":0.952},{"s":"n5","x":30,"y":0.955},{"s":"n5","x":40,"y":0.95},{"s":"n5","x":50,"y":0.953},{"s":"n5","x":60,"y":0.948},{"s":"n5","x":70,"y":0.952},{"s":"n5","x":80,"y":0.95},{"s":"n5","x":90,"y":0.945},{"s":"n5","x":100,"y":0.95},{"s":"n5","x":110,"y":0.947},{"s":"n5","x":120,"y":0.945},{"s":"n5","x":130,"y":0.948},{"s":"n5","x":140,"y":0.944},{"s":"n5","x":150,"y":0.946},{"s":"n5","x":160,"y":0.942},{"s":"n5","x":170,"y":0.945},{"s":"n5","x":180,"y":0.94},{"s":"n5","x":190,"y":0.944},{"s":"n5","x":200,"y":0.945},{"s":"n5","x":210,"y":0.94},{"s":"n5","x":220,"y":0.942},{"s":"n5","x":230,"y":0.938},{"s":"n5","x":240,"y":0.935},{"s":"n5","x":250,"y":0.93},{"s":"n5","x":260,"y":0.925},{"s":"n5","x":270,"y":0.92},{"s":"n5","x":280,"y":0.915},{"s":"n5","x":290,"y":0.91},{"s":"n5","x":300,"y":0.905},{"s":"n5","x":310,"y":0.9},{"s":"n5","x":320,"y":0.9},{"s":"n5","x":330,"y":0.895},
{"s":"n9","x":0,"y":0.96},{"s":"n9","x":10,"y":0.97},{"s":"n9","x":20,"y":0.968},{"s":"n9","x":30,"y":0.972},{"s":"n9","x":40,"y":0.97},{"s":"n9","x":50,"y":0.975},{"s":"n9","x":60,"y":0.97},{"s":"n9","x":70,"y":0.974},{"s":"n9","x":80,"y":0.97},{"s":"n9","x":90,"y":0.975},{"s":"n9","x":100,"y":0.972},{"s":"n9","x":110,"y":0.976},{"s":"n9","x":120,"y":0.97},{"s":"n9","x":130,"y":0.974},{"s":"n9","x":140,"y":0.972},{"s":"n9","x":150,"y":0.975},{"s":"n9","x":160,"y":0.97},{"s":"n9","x":170,"y":0.973},{"s":"n9","x":180,"y":0.975},{"s":"n9","x":190,"y":0.97},{"s":"n9","x":200,"y":0.972},{"s":"n9","x":210,"y":0.968},{"s":"n9","x":220,"y":0.97},{"s":"n9","x":230,"y":0.965},{"s":"n9","x":240,"y":0.968},{"s":"n9","x":250,"y":0.962},{"s":"n9","x":260,"y":0.965},{"s":"n9","x":270,"y":0.958},{"s":"n9","x":280,"y":0.955},{"s":"n9","x":290,"y":0.95},{"s":"n9","x":300,"y":0.948},{"s":"n9","x":310,"y":0.942},{"s":"n9","x":320,"y":0.938},{"s":"n9","x":330,"y":0.932},
{"s":"t","x":0,"y":0.99},{"s":"t","x":10,"y":0.999},{"s":"t","x":20,"y":1},{"s":"t","x":30,"y":1},{"s":"t","x":40,"y":1},{"s":"t","x":50,"y":1},{"s":"t","x":60,"y":1},{"s":"t","x":70,"y":1},{"s":"t","x":80,"y":1},{"s":"t","x":90,"y":1},{"s":"t","x":100,"y":1},{"s":"t","x":110,"y":1},{"s":"t","x":120,"y":1},{"s":"t","x":130,"y":1},{"s":"t","x":140,"y":1},{"s":"t","x":150,"y":1},{"s":"t","x":160,"y":1},{"s":"t","x":170,"y":1},{"s":"t","x":180,"y":1},{"s":"t","x":190,"y":1},{"s":"t","x":200,"y":1},{"s":"t","x":210,"y":1},{"s":"t","x":220,"y":1},{"s":"t","x":230,"y":1},{"s":"t","x":240,"y":1},{"s":"t","x":250,"y":1},{"s":"t","x":260,"y":1},{"s":"t","x":270,"y":1},{"s":"t","x":280,"y":1},{"s":"t","x":290,"y":1},{"s":"t","x":300,"y":1},{"s":"t","x":310,"y":1},{"s":"t","x":320,"y":1},{"s":"t","x":330,"y":1}
],
"p31": [
{"s":"n1","x":0,"y":0.573},{"s":"n1","x":2,"y":0.6},{"s":"n1","x":4,"y":0.62},{"s":"n1","x":6,"y":0.644},{"s":"n1","x":8,"y":0.63},{"s":"n1","x":10,"y":0.6},{"s":"n1","x":12,"y":0.56},{"s":"n1","x":14,"y":0.53},{"s":"n1","x":16,"y":0.52},{"s":"n1","x":18,"y":0.5},{"s":"n1","x":20,"y":0.48},{"s":"n1","x":22,"y":0.47},{"s":"n1","x":24,"y":0.455},{"s":"n1","x":26,"y":0.43},{"s":"n1","x":28,"y":0.4},{"s":"n1","x":30,"y":0.37},{"s":"n1","x":31,"y":0.36},{"s":"n1","x":32,"y":0.365},{"s":"n1","x":34,"y":0.38},{"s":"n1","x":36,"y":0.4},{"s":"n1","x":38,"y":0.42},{"s":"n1","x":40,"y":0.44},{"s":"n1","x":42,"y":0.46},{"s":"n1","x":44,"y":0.49},{"s":"n1","x":46,"y":0.515},{"s":"n1","x":48,"y":0.54},{"s":"n1","x":50,"y":0.56},{"s":"n1","x":52,"y":0.585},{"s":"n1","x":54,"y":0.61},{"s":"n1","x":56,"y":0.635},{"s":"n1","x":58,"y":0.655},{"s":"n1","x":60,"y":0.665},{"s":"n1","x":62,"y":0.675},{"s":"n1","x":64,"y":0.68},{"s":"n1","x":66,"y":0.67},{"s":"n1","x":68,"y":0.65},{"s":"n1","x":70,"y":0.625},{"s":"n1","x":72,"y":0.608},{"s":"n1","x":74,"y":0.61},{"s":"n1","x":76,"y":0.63},{"s":"n1","x":78,"y":0.645},{"s":"n1","x":80,"y":0.655},{"s":"n1","x":82,"y":0.665},{"s":"n1","x":84,"y":0.67},{"s":"n1","x":86,"y":0.69},{"s":"n1","x":88,"y":0.71},{"s":"n1","x":89,"y":0.73},{"s":"n1","x":90,"y":0.755},{"s":"n1","x":91,"y":0.78},{"s":"n1","x":92,"y":0.81},{"s":"n1","x":93,"y":0.84},{"s":"n1","x":94,"y":0.87},{"s":"n1","x":95,"y":0.9},{"s":"n1","x":96,"y":0.93},{"s":"n1","x":97,"y":0.955},{"s":"n1","x":98,"y":0.97},{"s":"n1","x":100,"y":0.98},{"s":"n1","x":103,"y":0.97},{"s":"n1","x":106,"y":0.955},{"s":"n1","x":109,"y":0.945},{"s":"n1","x":112,"y":0.94},{"s":"n1","x":115,"y":0.93},{"s":"n1","x":118,"y":0.925},{"s":"n1","x":121,"y":0.915},{"s":"n1","x":124,"y":0.905},{"s":"n1","x":127,"y":0.9},{"s":"n1","x":130,"y":0.905},{"s":"n1","x":133,"y":0.9},{"s":"n1","x":136,"y":0.895},{"s":"n1","x":139,"y":0.89},{"s":"n1","x":142,"y":0.885},{"s":"n1","x":145,"y":0.882},{"s":"n1","x":148,"y":0.895},{"s":"n1","x":151,"y":0.905},{"s":"n1","x":154,"y":0.915},{"s":"n1","x":157,"y":0.925},{"s":"n1","x":160,"y":0.935},{"s":"n1","x":163,"y":0.945},{"s":"n1","x":166,"y":0.955},{"s":"n1","x":169,"y":0.965},{"s":"n1","x":172,"y":0.975},{"s":"n1","x":175,"y":0.985},{"s":"n1","x":178,"y":0.995},
{"s":"n5","x":0,"y":0.751},{"s":"n5","x":2,"y":0.77},{"s":"n5","x":5,"y":0.79},{"s":"n5","x":10,"y":0.775},{"s":"n5","x":15,"y":0.795},{"s":"n5","x":20,"y":0.78},{"s":"n5","x":25,"y":0.788},{"s":"n5","x":30,"y":0.772},{"s":"n5","x":35,"y":0.795},{"s":"n5","x":40,"y":0.782},{"s":"n5","x":45,"y":0.79},{"s":"n5","x":50,"y":0.798},{"s":"n5","x":55,"y":0.785},{"s":"n5","x":60,"y":0.8},{"s":"n5","x":65,"y":0.79},{"s":"n5","x":70,"y":0.805},{"s":"n5","x":75,"y":0.792},{"s":"n5","x":80,"y":0.8},{"s":"n5","x":85,"y":0.81},{"s":"n5","x":90,"y":0.795},{"s":"n5","x":95,"y":0.805},{"s":"n5","x":100,"y":0.81},{"s":"n5","x":105,"y":0.798},{"s":"n5","x":110,"y":0.812},{"s":"n5","x":115,"y":0.805},{"s":"n5","x":120,"y":0.815},{"s":"n5","x":125,"y":0.8},{"s":"n5","x":130,"y":0.812},{"s":"n5","x":135,"y":0.818},{"s":"n5","x":140,"y":0.806},{"s":"n5","x":145,"y":0.82},{"s":"n5","x":150,"y":0.81},{"s":"n5","x":155,"y":0.822},{"s":"n5","x":160,"y":0.812},{"s":"n5","x":165,"y":0.825},{"s":"n5","x":170,"y":0.815},{"s":"n5","x":175,"y":0.828},{"s":"n5","x":180,"y":0.818},{"s":"n5","x":185,"y":0.826},{"s":"n5","x":190,"y":0.815},{"s":"n5","x":195,"y":0.83},{"s":"n5","x":200,"y":0.82},{"s":"n5","x":205,"y":0.828},{"s":"n5","x":210,"y":0.818},{"s":"n5","x":215,"y":0.832},{"s":"n5","x":220,"y":0.822},{"s":"n5","x":225,"y":0.83},{"s":"n5","x":230,"y":0.825},{"s":"n5","x":235,"y":0.836},{"s":"n5","x":240,"y":0.824},{"s":"n5","x":245,"y":0.832},{"s":"n5","x":250,"y":0.826},{"s":"n5","x":255,"y":0.835},{"s":"n5","x":260,"y":0.822},{"s":"n5","x":265,"y":0.83},{"s":"n5","x":270,"y":0.82},{"s":"n5","x":275,"y":0.828},{"s":"n5","x":280,"y":0.818},{"s":"n5","x":285,"y":0.83},{"s":"n5","x":290,"y":0.822},{"s":"n5","x":295,"y":0.832},{"s":"n5","x":300,"y":0.825},{"s":"n5","x":305,"y":0.815},{"s":"n5","x":310,"y":0.826},{"s":"n5","x":315,"y":0.818},{"s":"n5","x":320,"y":0.812},{"s":"n5","x":325,"y":0.822},{"s":"n5","x":330,"y":0.81},{"s":"n5","x":335,"y":0.82},{"s":"n5","x":340,"y":0.812},{"s":"n5","x":345,"y":0.805},{"s":"n5","x":350,"y":0.818},{"s":"n5","x":355,"y":0.81},{"s":"n5","x":360,"y":0.822},{"s":"n5","x":365,"y":0.812},{"s":"n5","x":370,"y":0.824},{"s":"n5","x":375,"y":0.815},{"s":"n5","x":380,"y":0.826},{"s":"n5","x":385,"y":0.818},{"s":"n5","x":390,"y":0.812},{"s":"n5","x":395,"y":0.824},{"s":"n5","x":400,"y":0.815},{"s":"n5","x":405,"y":0.826},{"s":"n5","x":410,"y":0.818},{"s":"n5","x":415,"y":0.81},{"s":"n5","x":420,"y":0.822},{"s":"n5","x":425,"y":0.815},{"s":"n5","x":430,"y":0.828},{"s":"n5","x":435,"y":0.818},{"s":"n5","x":440,"y":0.824},{"s":"n5","x":445,"y":0.812},{"s":"n5","x":450,"y":0.826},{"s":"n5","x":455,"y":0.818},{"s":"n5","x":460,"y":0.83},{"s":"n5","x":465,"y":0.822},{"s":"n5","x":470,"y":0.835},{"s":"n5","x":475,"y":0.828},{"s":"n5","x":480,"y":0.84},{"s":"n5","x":485,"y":0.848},{"s":"n5","x":490,"y":0.858},{"s":"n5","x":493,"y":0.87},{"s":"n5","x":496,"y":0.885},{"s":"n5","x":498,"y":0.9},{"s":"n5","x":500,"y":0.91},
{"s":"n9","x":0,"y":0.805},{"s":"n9","x":2,"y":0.83},{"s":"n9","x":5,"y":0.848},{"s":"n9","x":10,"y":0.835},{"s":"n9","x":15,"y":0.852},{"s":"n9","x":20,"y":0.84},{"s":"n9","x":25,"y":0.855},{"s":"n9","x":30,"y":0.838},{"s":"n9","x":35,"y":0.846},{"s":"n9","x":40,"y":0.832},{"s":"n9","x":45,"y":0.85},{"s":"n9","x":50,"y":0.84},{"s":"n9","x":55,"y":0.854},{"s":"n9","x":60,"y":0.836},{"s":"n9","x":65,"y":0.845},{"s":"n9","x":70,"y":0.83},{"s":"n9","x":75,"y":0.85},{"s":"n9","x":80,"y":0.842},{"s":"n9","x":85,"y":0.836},{"s":"n9","x":90,"y":0.852},{"s":"n9","x":95,"y":0.84},{"s":"n9","x":100,"y":0.846},{"s":"n9","x":105,"y":0.832},{"s":"n9","x":110,"y":0.85},{"s":"n9","x":115,"y":0.838},{"s":"n9","x":120,"y":0.845},{"s":"n9","x":125,"y":0.83},{"s":"n9","x":130,"y":0.848},{"s":"n9","x":135,"y":0.84},{"s":"n9","x":140,"y":0.852},{"s":"n9","x":145,"y":0.836},{"s":"n9","x":150,"y":0.844},{"s":"n9","x":155,"y":0.85},{"s":"n9","x":160,"y":0.838},{"s":"n9","x":165,"y":0.846},{"s":"n9","x":170,"y":0.832},{"s":"n9","x":175,"y":0.842},{"s":"n9","x":180,"y":0.848},{"s":"n9","x":185,"y":0.836},{"s":"n9","x":190,"y":0.845},{"s":"n9","x":195,"y":0.84},{"s":"n9","x":200,"y":0.85},{"s":"n9","x":205,"y":0.838},{"s":"n9","x":210,"y":0.844},{"s":"n9","x":215,"y":0.834},{"s":"n9","x":220,"y":0.842},{"s":"n9","x":225,"y":0.848},{"s":"n9","x":230,"y":0.838},{"s":"n9","x":235,"y":0.845},{"s":"n9","x":240,"y":0.85},{"s":"n9","x":245,"y":0.842},{"s":"n9","x":250,"y":0.856},{"s":"n9","x":255,"y":0.846},{"s":"n9","x":260,"y":0.862},{"s":"n9","x":265,"y":0.85},{"s":"n9","x":270,"y":0.858},{"s":"n9","x":275,"y":0.845},{"s":"n9","x":280,"y":0.862},{"s":"n9","x":285,"y":0.852},{"s":"n9","x":290,"y":0.866},{"s":"n9","x":295,"y":0.855},{"s":"n9","x":300,"y":0.86},{"s":"n9","x":305,"y":0.848},{"s":"n9","x":310,"y":0.864},{"s":"n9","x":315,"y":0.854},{"s":"n9","x":320,"y":0.868},{"s":"n9","x":325,"y":0.856},{"s":"n9","x":330,"y":0.862},{"s":"n9","x":335,"y":0.85},{"s":"n9","x":340,"y":0.866},{"s":"n9","x":345,"y":0.858},{"s":"n9","x":350,"y":0.872},{"s":"n9","x":355,"y":0.86},{"s":"n9","x":360,"y":0.866},{"s":"n9","x":365,"y":0.852},{"s":"n9","x":370,"y":0.87},{"s":"n9","x":375,"y":0.858},{"s":"n9","x":380,"y":0.864},{"s":"n9","x":385,"y":0.85},{"s":"n9","x":390,"y":0.868},{"s":"n9","x":395,"y":0.856},{"s":"n9","x":400,"y":0.862},{"s":"n9","x":405,"y":0.85},{"s":"n9","x":410,"y":0.866},{"s":"n9","x":415,"y":0.858},{"s":"n9","x":420,"y":0.87},{"s":"n9","x":425,"y":0.856},{"s":"n9","x":430,"y":0.864},{"s":"n9","x":435,"y":0.852},{"s":"n9","x":440,"y":0.868},{"s":"n9","x":445,"y":0.86},{"s":"n9","x":450,"y":0.874},{"s":"n9","x":455,"y":0.862},{"s":"n9","x":460,"y":0.87},{"s":"n9","x":465,"y":0.858},{"s":"n9","x":470,"y":0.874},{"s":"n9","x":475,"y":0.866},{"s":"n9","x":480,"y":0.878},{"s":"n9","x":485,"y":0.872},{"s":"n9","x":490,"y":0.886},{"s":"n9","x":493,"y":0.895},{"s":"n9","x":496,"y":0.905},{"s":"n9","x":498,"y":0.912},{"s":"n9","x":500,"y":0.92},
{"s":"t","x":0,"y":0.876},{"s":"t","x":1,"y":0.895},{"s":"t","x":2,"y":0.912},{"s":"t","x":3,"y":0.93},{"s":"t","x":4,"y":0.94},{"s":"t","x":6,"y":0.952},{"s":"t","x":8,"y":0.96},{"s":"t","x":10,"y":0.965},{"s":"t","x":13,"y":0.972},{"s":"t","x":16,"y":0.978},{"s":"t","x":20,"y":0.983},{"s":"t","x":25,"y":0.986},{"s":"t","x":30,"y":0.989},{"s":"t","x":40,"y":0.992},{"s":"t","x":50,"y":0.995},{"s":"t","x":60,"y":0.997},{"s":"t","x":70,"y":0.998},{"s":"t","x":80,"y":0.999},{"s":"t","x":90,"y":1},{"s":"t","x":100,"y":1},{"s":"t","x":110,"y":1},{"s":"t","x":120,"y":1},{"s":"t","x":130,"y":1},{"s":"t","x":140,"y":1},{"s":"t","x":150,"y":1},{"s":"t","x":160,"y":1},{"s":"t","x":170,"y":1},{"s":"t","x":180,"y":1},{"s":"t","x":190,"y":1},{"s":"t","x":200,"y":1},{"s":"t","x":210,"y":1},{"s":"t","x":220,"y":1},{"s":"t","x":230,"y":1},{"s":"t","x":240,"y":1},{"s":"t","x":250,"y":1},{"s":"t","x":260,"y":1},{"s":"t","x":270,"y":1},{"s":"t","x":280,"y":1},{"s":"t","x":290,"y":1},{"s":"t","x":300,"y":1},{"s":"t","x":310,"y":1},{"s":"t","x":320,"y":1},{"s":"t","x":330,"y":1},{"s":"t","x":340,"y":1},{"s":"t","x":350,"y":1},{"s":"t","x":360,"y":1},{"s":"t","x":370,"y":1},{"s":"t","x":380,"y":1},{"s":"t","x":390,"y":1},{"s":"t","x":400,"y":1},{"s":"t","x":410,"y":1},{"s":"t","x":420,"y":1},{"s":"t","x":430,"y":1},{"s":"t","x":440,"y":1},{"s":"t","x":450,"y":1},{"s":"t","x":460,"y":1},{"s":"t","x":470,"y":1},{"s":"t","x":480,"y":1},{"s":"t","x":490,"y":1},{"s":"t","x":500,"y":1}
],
"p32": [
{"s":"n1","x":0,"y":0.9},{"s":"n1","x":10,"y":0.905},{"s":"n1","x":20,"y":0.9},{"s":"n1","x":30,"y":0.895},{"s":"n1","x":40,"y":0.885},{"s":"n1","x":50,"y":0.88},{"s":"n1","x":60,"y":0.89},{"s":"n1","x":70,"y":0.885},{"s":"n1","x":80,"y":0.895},{"s":"n1","x":90,"y":0.89},{"s":"n1","x":100,"y":0.895},{"s":"n1","x":110,"y":0.9},{"s":"n1","x":120,"y":0.895},{"s":"n1","x":130,"y":0.9},{"s":"n1","x":140,"y":0.895},{"s":"n1","x":150,"y":0.9},{"s":"n1","x":160,"y":0.905},{"s":"n1","x":170,"y":0.9},{"s":"n1","x":180,"y":0.91},{"s":"n1","x":190,"y":0.905},{"s":"n1","x":200,"y":0.9},{"s":"n1","x":210,"y":0.905},{"s":"n1","x":220,"y":0.91},{"s":"n1","x":230,"y":0.905},{"s":"n1","x":240,"y":0.9},{"s":"n1","x":250,"y":0.905},{"s":"n1","x":260,"y":0.9},{"s":"n1","x":270,"y":0.895},{"s":"n1","x":280,"y":0.905},{"s":"n1","x":290,"y":0.9},{"s":"n1","x":300,"y":0.89},{"s":"n1","x":310,"y":0.885},{"s":"n1","x":320,"y":0.88},{"s":"n1","x":330,"y":0.89},{"s":"n1","x":340,"y":0.885},{"s":"n1","x":350,"y":0.89},{"s":"n1","x":360,"y":0.895},{"s":"n1","x":370,"y":0.9},{"s":"n1","x":380,"y":0.895},{"s":"n1","x":390,"y":0.9},{"s":"n1","x":400,"y":0.905},{"s":"n1","x":410,"y":0.9},{"s":"n1","x":420,"y":0.895},{"s":"n1","x":430,"y":0.89},{"s":"n1","x":440,"y":0.895},{"s":"n1","x":450,"y":0.885},{"s":"n1","x":460,"y":0.89},{"s":"n1","x":470,"y":0.9},{"s":"n1","x":480,"y":0.895},{"s":"n1","x":490,"y":0.89},{"s":"n1","x":500,"y":0.885},
{"s":"n5","x":0,"y":0.93},{"s":"n5","x":10,"y":0.935},{"s":"n5","x":20,"y":0.93},{"s":"n5","x":30,"y":0.925},{"s":"n5","x":40,"y":0.932},{"s":"n5","x":50,"y":0.93},{"s":"n5","x":60,"y":0.935},{"s":"n5","x":70,"y":0.928},{"s":"n5","x":80,"y":0.932},{"s":"n5","x":90,"y":0.925},{"s":"n5","x":100,"y":0.93},{"s":"n5","x":110,"y":0.935},{"s":"n5","x":120,"y":0.93},{"s":"n5","x":130,"y":0.926},{"s":"n5","x":140,"y":0.932},{"s":"n5","x":150,"y":0.935},{"s":"n5","x":160,"y":0.93},{"s":"n5","x":170,"y":0.934},{"s":"n5","x":180,"y":0.93},{"s":"n5","x":190,"y":0.935},{"s":"n5","x":200,"y":0.938},{"s":"n5","x":210,"y":0.932},{"s":"n5","x":220,"y":0.935},{"s":"n5","x":230,"y":0.93},{"s":"n5","x":240,"y":0.934},{"s":"n5","x":250,"y":0.928},{"s":"n5","x":260,"y":0.932},{"s":"n5","x":270,"y":0.935},{"s":"n5","x":280,"y":0.93},{"s":"n5","x":290,"y":0.925},{"s":"n5","x":300,"y":0.932},{"s":"n5","x":310,"y":0.928},{"s":"n5","x":320,"y":0.93},{"s":"n5","x":330,"y":0.925},{"s":"n5","x":340,"y":0.93},{"s":"n5","x":350,"y":0.926},{"s":"n5","x":360,"y":0.922},{"s":"n5","x":370,"y":0.928},{"s":"n5","x":380,"y":0.925},{"s":"n5","x":390,"y":0.92},{"s":"n5","x":400,"y":0.925},{"s":"n5","x":410,"y":0.915},{"s":"n5","x":420,"y":0.91},{"s":"n5","x":430,"y":0.905},{"s":"n5","x":440,"y":0.91},{"s":"n5","x":450,"y":0.905},{"s":"n5","x":460,"y":0.915},{"s":"n5","x":470,"y":0.925},{"s":"n5","x":480,"y":0.92},{"s":"n5","x":490,"y":0.915},{"s":"n5","x":500,"y":0.91},
{"s":"n9","x":0,"y":0.945},{"s":"n9","x":10,"y":0.955},{"s":"n9","x":20,"y":0.952},{"s":"n9","x":30,"y":0.958},{"s":"n9","x":40,"y":0.955},{"s":"n9","x":50,"y":0.96},{"s":"n9","x":60,"y":0.955},{"s":"n9","x":70,"y":0.958},{"s":"n9","x":80,"y":0.952},{"s":"n9","x":90,"y":0.956},{"s":"n9","x":100,"y":0.96},{"s":"n9","x":110,"y":0.955},{"s":"n9","x":120,"y":0.958},{"s":"n9","x":130,"y":0.953},{"s":"n9","x":140,"y":0.956},{"s":"n9","x":150,"y":0.96},{"s":"n9","x":160,"y":0.954},{"s":"n9","x":170,"y":0.958},{"s":"n9","x":180,"y":0.955},{"s":"n9","x":190,"y":0.952},{"s":"n9","x":200,"y":0.957},{"s":"n9","x":210,"y":0.954},{"s":"n9","x":220,"y":0.958},{"s":"n9","x":230,"y":0.952},{"s":"n9","x":240,"y":0.955},{"s":"n9","x":250,"y":0.958},{"s":"n9","x":260,"y":0.953},{"s":"n9","x":270,"y":0.956},{"s":"n9","x":280,"y":0.952},{"s":"n9","x":290,"y":0.955},{"s":"n9","x":300,"y":0.95},{"s":"n9","x":310,"y":0.954},{"s":"n9","x":320,"y":0.948},{"s":"n9","x":330,"y":0.952},{"s":"n9","x":340,"y":0.946},{"s":"n9","x":350,"y":0.95},{"s":"n9","x":360,"y":0.943},{"s":"n9","x":370,"y":0.946},{"s":"n9","x":380,"y":0.94},{"s":"n9","x":390,"y":0.943},{"s":"n9","x":400,"y":0.938},{"s":"n9","x":410,"y":0.935},{"s":"n9","x":420,"y":0.932},{"s":"n9","x":430,"y":0.93},{"s":"n9","x":440,"y":0.925},{"s":"n9","x":450,"y":0.922},{"s":"n9","x":460,"y":0.918},{"s":"n9","x":470,"y":0.915},{"s":"n9","x":480,"y":0.91},{"s":"n9","x":490,"y":0.908},{"s":"n9","x":500,"y":0.905},
{"s":"t","x":0,"y":0.99},{"s":"t","x":10,"y":0.999},{"s":"t","x":20,"y":1},{"s":"t","x":30,"y":1},{"s":"t","x":40,"y":1},{"s":"t","x":50,"y":1},{"s":"t","x":60,"y":1},{"s":"t","x":70,"y":1},{"s":"t","x":80,"y":1},{"s":"t","x":90,"y":1},{"s":"t","x":100,"y":1},{"s":"t","x":110,"y":1},{"s":"t","x":120,"y":1},{"s":"t","x":130,"y":1},{"s":"t","x":140,"y":1},{"s":"t","x":150,"y":1},{"s":"t","x":160,"y":1},{"s":"t","x":170,"y":1},{"s":"t","x":180,"y":1},{"s":"t","x":190,"y":1},{"s":"t","x":200,"y":1},{"s":"t","x":210,"y":1},{"s":"t","x":220,"y":1},{"s":"t","x":230,"y":1},{"s":"t","x":240,"y":1},{"s":"t","x":250,"y":1},{"s":"t","x":260,"y":1},{"s":"t","x":270,"y":1},{"s":"t","x":280,"y":1},{"s":"t","x":290,"y":1},{"s":"t","x":300,"y":1},{"s":"t","x":310,"y":1},{"s":"t","x":320,"y":1},{"s":"t","x":330,"y":1},{"s":"t","x":340,"y":1},{"s":"t","x":350,"y":1},{"s":"t","x":360,"y":1},{"s":"t","x":370,"y":1},{"s":"t","x":380,"y":1},{"s":"t","x":390,"y":1},{"s":"t","x":400,"y":1},{"s":"t","x":410,"y":1},{"s":"t","x":420,"y":1},{"s":"t","x":430,"y":1},{"s":"t","x":440,"y":1},{"s":"t","x":450,"y":1},{"s":"t","x":460,"y":1},{"s":"t","x":470,"y":1},{"s":"t","x":480,"y":1},{"s":"t","x":490,"y":1},{"s":"t","x":500,"y":1}
],
"p33": [
{"s":"n1","x":0,"y":0.955},{"s":"n1","x":10,"y":0.952},{"s":"n1","x":20,"y":0.948},{"s":"n1","x":30,"y":0.945},{"s":"n1","x":40,"y":0.94},{"s":"n1","x":50,"y":0.942},{"s":"n1","x":60,"y":0.938},{"s":"n1","x":70,"y":0.935},{"s":"n1","x":80,"y":0.94},{"s":"n1","x":90,"y":0.933},{"s":"n1","x":100,"y":0.935},{"s":"n1","x":110,"y":0.93},{"s":"n1","x":120,"y":0.935},{"s":"n1","x":130,"y":0.932},{"s":"n1","x":140,"y":0.928},{"s":"n1","x":150,"y":0.934},{"s":"n1","x":160,"y":0.93},{"s":"n1","x":170,"y":0.935},{"s":"n1","x":180,"y":0.932},{"s":"n1","x":190,"y":0.928},{"s":"n1","x":200,"y":0.935},{"s":"n1","x":210,"y":0.94},{"s":"n1","x":220,"y":0.945},{"s":"n1","x":230,"y":0.942},{"s":"n1","x":240,"y":0.938},{"s":"n1","x":250,"y":0.935},{"s":"n1","x":260,"y":0.93},{"s":"n1","x":270,"y":0.928},{"s":"n1","x":280,"y":0.925},{"s":"n1","x":290,"y":0.922},{"s":"n1","x":300,"y":0.925},{"s":"n1","x":310,"y":0.92},{"s":"n1","x":320,"y":0.925},{"s":"n1","x":330,"y":0.93},{"s":"n1","x":340,"y":0.935},{"s":"n1","x":350,"y":0.94},{"s":"n1","x":360,"y":0.945},{"s":"n1","x":370,"y":0.948},{"s":"n1","x":380,"y":0.945},{"s":"n1","x":390,"y":0.94},{"s":"n1","x":400,"y":0.942},{"s":"n1","x":410,"y":0.938},{"s":"n1","x":420,"y":0.935},{"s":"n1","x":430,"y":0.932},{"s":"n1","x":440,"y":0.928},{"s":"n1","x":450,"y":0.925},{"s":"n1","x":460,"y":0.93},{"s":"n1","x":470,"y":0.928},{"s":"n1","x":480,"y":0.925},{"s":"n1","x":490,"y":0.93},{"s":"n1","x":500,"y":0.928},
{"s":"n5","x":0,"y":0.955},{"s":"n5","x":10,"y":0.96},{"s":"n5","x":20,"y":0.958},{"s":"n5","x":30,"y":0.955},{"s":"n5","x":40,"y":0.958},{"s":"n5","x":50,"y":0.956},{"s":"n5","x":60,"y":0.954},{"s":"n5","x":70,"y":0.957},{"s":"n5","x":80,"y":0.955},{"s":"n5","x":90,"y":0.952},{"s":"n5","x":100,"y":0.956},{"s":"n5","x":110,"y":0.954},{"s":"n5","x":120,"y":0.958},{"s":"n5","x":130,"y":0.955},{"s":"n5","x":140,"y":0.956},{"s":"n5","x":150,"y":0.953},{"s":"n5","x":160,"y":0.957},{"s":"n5","x":170,"y":0.955},{"s":"n5","x":180,"y":0.958},{"s":"n5","x":190,"y":0.956},{"s":"n5","x":200,"y":0.954},{"s":"n5","x":210,"y":0.956},{"s":"n5","x":220,"y":0.953},{"s":"n5","x":230,"y":0.955},{"s":"n5","x":240,"y":0.957},{"s":"n5","x":250,"y":0.954},{"s":"n5","x":260,"y":0.956},{"s":"n5","x":270,"y":0.952},{"s":"n5","x":280,"y":0.955},{"s":"n5","x":290,"y":0.953},{"s":"n5","x":300,"y":0.956},{"s":"n5","x":310,"y":0.954},{"s":"n5","x":320,"y":0.957},{"s":"n5","x":330,"y":0.955},{"s":"n5","x":340,"y":0.958},{"s":"n5","x":350,"y":0.955},{"s":"n5","x":360,"y":0.952},{"s":"n5","x":370,"y":0.95},{"s":"n5","x":380,"y":0.948},{"s":"n5","x":390,"y":0.945},{"s":"n5","x":400,"y":0.94},{"s":"n5","x":410,"y":0.935},{"s":"n5","x":420,"y":0.93},{"s":"n5","x":430,"y":0.925},{"s":"n5","x":440,"y":0.92},{"s":"n5","x":450,"y":0.912},{"s":"n5","x":460,"y":0.908},{"s":"n5","x":470,"y":0.9},{"s":"n5","x":480,"y":0.895},{"s":"n5","x":490,"y":0.888},{"s":"n5","x":500,"y":0.882},
{"s":"n9","x":0,"y":0.965},{"s":"n9","x":10,"y":0.972},{"s":"n9","x":20,"y":0.97},{"s":"n9","x":30,"y":0.975},{"s":"n9","x":40,"y":0.972},{"s":"n9","x":50,"y":0.975},{"s":"n9","x":60,"y":0.97},{"s":"n9","x":70,"y":0.974},{"s":"n9","x":80,"y":0.972},{"s":"n9","x":90,"y":0.975},{"s":"n9","x":100,"y":0.973},{"s":"n9","x":110,"y":0.975},{"s":"n9","x":120,"y":0.972},{"s":"n9","x":130,"y":0.976},{"s":"n9","x":140,"y":0.973},{"s":"n9","x":150,"y":0.975},{"s":"n9","x":160,"y":0.972},{"s":"n9","x":170,"y":0.975},{"s":"n9","x":180,"y":0.973},{"s":"n9","x":190,"y":0.976},{"s":"n9","x":200,"y":0.974},{"s":"n9","x":210,"y":0.972},{"s":"n9","x":220,"y":0.975},{"s":"n9","x":230,"y":0.973},{"s":"n9","x":240,"y":0.975},{"s":"n9","x":250,"y":0.972},{"s":"n9","x":260,"y":0.974},{"s":"n9","x":270,"y":0.97},{"s":"n9","x":280,"y":0.973},{"s":"n9","x":290,"y":0.971},{"s":"n9","x":300,"y":0.974},{"s":"n9","x":310,"y":0.972},{"s":"n9","x":320,"y":0.97},{"s":"n9","x":330,"y":0.973},{"s":"n9","x":340,"y":0.97},{"s":"n9","x":350,"y":0.972},{"s":"n9","x":360,"y":0.968},{"s":"n9","x":370,"y":0.97},{"s":"n9","x":380,"y":0.967},{"s":"n9","x":390,"y":0.965},{"s":"n9","x":400,"y":0.967},{"s":"n9","x":410,"y":0.963},{"s":"n9","x":420,"y":0.965},{"s":"n9","x":430,"y":0.962},{"s":"n9","x":440,"y":0.96},{"s":"n9","x":450,"y":0.958},{"s":"n9","x":460,"y":0.955},{"s":"n9","x":470,"y":0.955},{"s":"n9","x":480,"y":0.952},{"s":"n9","x":490,"y":0.95},{"s":"n9","x":500,"y":0.948},
{"s":"t","x":0,"y":0.995},{"s":"t","x":10,"y":1},{"s":"t","x":20,"y":1},{"s":"t","x":30,"y":1},{"s":"t","x":40,"y":1},{"s":"t","x":50,"y":1},{"s":"t","x":60,"y":1},{"s":"t","x":70,"y":1},{"s":"t","x":80,"y":1},{"s":"t","x":90,"y":1},{"s":"t","x":100,"y":1},{"s":"t","x":110,"y":1},{"s":"t","x":120,"y":1},{"s":"t","x":130,"y":1},{"s":"t","x":140,"y":1},{"s":"t","x":150,"y":1},{"s":"t","x":160,"y":1},{"s":"t","x":170,"y":1},{"s":"t","x":180,"y":1},{"s":"t","x":190,"y":1},{"s":"t","x":200,"y":1},{"s":"t","x":210,"y":1},{"s":"t","x":220,"y":1},{"s":"t","x":230,"y":1},{"s":"t","x":240,"y":1},{"s":"t","x":250,"y":1},{"s":"t","x":260,"y":1},{"s":"t","x":270,"y":1},{"s":"t","x":280,"y":1},{"s":"t","x":290,"y":1},{"s":"t","x":300,"y":1},{"s":"t","x":310,"y":1},{"s":"t","x":320,"y":1},{"s":"t","x":330,"y":1},{"s":"t","x":340,"y":1},{"s":"t","x":350,"y":1},{"s":"t","x":360,"y":1},{"s":"t","x":370,"y":1},{"s":"t","x":380,"y":1},{"s":"t","x":390,"y":1},{"s":"t","x":400,"y":1},{"s":"t","x":410,"y":1},{"s":"t","x":420,"y":1},{"s":"t","x":430,"y":1},{"s":"t","x":440,"y":1},{"s":"t","x":450,"y":1},{"s":"t","x":460,"y":1},{"s":"t","x":470,"y":1},{"s":"t","x":480,"y":1},{"s":"t","x":490,"y":1},{"s":"t","x":500,"y":1}
],
"p41": [
{"s":"n1","x":0,"y":0.6},{"s":"n1","x":2,"y":0.63},{"s":"n1","x":4,"y":0.66},{"s":"n1","x":6,"y":0.671},{"s":"n1","x":8,"y":0.64},{"s":"n1","x":10,"y":0.61},{"s":"n1","x":12,"y":0.58},{"s":"n1","x":14,"y":0.56},{"s":"n1","x":16,"y":0.55},{"s":"n1","x":18,"y":0.52},{"s":"n1","x":20,"y":0.5},{"s":"n1","x":22,"y":0.48},{"s":"n1","x":24,"y":0.46},{"s":"n1","x":26,"y":0.44},{"s":"n1","x":28,"y":0.42},{"s":"n1","x":30,"y":0.4},{"s":"n1","x":32,"y":0.385},{"s":"n1","x":34,"y":0.38},{"s":"n1","x":36,"y":0.385},{"s":"n1","x":38,"y":0.4},{"s":"n1","x":40,"y":0.42},{"s":"n1","x":42,"y":0.45},{"s":"n1","x":44,"y":0.48},{"s":"n1","x":46,"y":0.51},{"s":"n1","x":48,"y":0.54},{"s":"n1","x":50,"y":0.565},{"s":"n1","x":52,"y":0.59},{"s":"n1","x":54,"y":0.615},{"s":"n1","x":56,"y":0.64},{"s":"n1","x":58,"y":0.66},{"s":"n1","x":60,"y":0.675},{"s":"n1","x":62,"y":0.685},{"s":"n1","x":64,"y":0.695},{"s":"n1","x":66,"y":0.69},{"s":"n1","x":68,"y":0.67},{"s":"n1","x":70,"y":0.65},{"s":"n1","x":72,"y":0.63},{"s":"n1","x":74,"y":0.625},{"s":"n1","x":76,"y":0.64},{"s":"n1","x":78,"y":0.66},{"s":"n1","x":80,"y":0.67},{"s":"n1","x":82,"y":0.68},{"s":"n1","x":84,"y":0.683},{"s":"n1","x":86,"y":0.7},{"s":"n1","x":88,"y":0.72},{"s":"n1","x":89,"y":0.74},{"s":"n1","x":90,"y":0.76},{"s":"n1","x":91,"y":0.79},{"s":"n1","x":92,"y":0.82},{"s":"n1","x":93,"y":0.85},{"s":"n1","x":94,"y":0.88},{"s":"n1","x":95,"y":0.91},{"s":"n1","x":96,"y":0.94},{"s":"n1","x":97,"y":0.96},{"s":"n1","x":98,"y":0.975},{"s":"n1","x":100,"y":0.985},{"s":"n1","x":103,"y":0.97},{"s":"n1","x":106,"y":0.955},{"s":"n1","x":109,"y":0.945},{"s":"n1","x":112,"y":0.94},{"s":"n1","x":115,"y":0.935},{"s":"n1","x":118,"y":0.925},{"s":"n1","x":121,"y":0.92},{"s":"n1","x":124,"y":0.91},{"s":"n1","x":127,"y":0.925},{"s":"n1","x":130,"y":0.935},{"s":"n1","x":133,"y":0.93},{"s":"n1","x":136,"y":0.91},{"s":"n1","x":139,"y":0.89},{"s":"n1","x":142,"y":0.895},{"s":"n1","x":145,"y":0.905},{"s":"n1","x":148,"y":0.915},{"s":"n1","x":151,"y":0.92},{"s":"n1","x":154,"y":0.93},{"s":"n1","x":157,"y":0.94},{"s":"n1","x":160,"y":0.95},{"s":"n1","x":163,"y":0.96},{"s":"n1","x":166,"y":0.97},{"s":"n1","x":169,"y":0.98},{"s":"n1","x":172,"y":0.99},{"s":"n1","x":175,"y":0.995},
{"s":"n5","x":0,"y":0.731},{"s":"n5","x":2,"y":0.76},{"s":"n5","x":5,"y":0.785},{"s":"n5","x":10,"y":0.77},{"s":"n5","x":15,"y":0.79},{"s":"n5","x":20,"y":0.765},{"s":"n5","x":25,"y":0.785},{"s":"n5","x":30,"y":0.775},{"s":"n5","x":35,"y":0.795},{"s":"n5","x":40,"y":0.78},{"s":"n5","x":45,"y":0.772},{"s":"n5","x":50,"y":0.792},{"s":"n5","x":55,"y":0.78},{"s":"n5","x":60,"y":0.798},{"s":"n5","x":65,"y":0.785},{"s":"n5","x":70,"y":0.802},{"s":"n5","x":75,"y":0.788},{"s":"n5","x":80,"y":0.806},{"s":"n5","x":85,"y":0.79},{"s":"n5","x":90,"y":0.81},{"s":"n5","x":95,"y":0.795},{"s":"n5","x":100,"y":0.805},{"s":"n5","x":105,"y":0.815},{"s":"n5","x":110,"y":0.798},{"s":"n5","x":115,"y":0.812},{"s":"n5","x":120,"y":0.8},{"s":"n5","x":125,"y":0.818},{"s":"n5","x":130,"y":0.805},{"s":"n5","x":135,"y":0.822},{"s":"n5","x":140,"y":0.808},{"s":"n5","x":145,"y":0.815},{"s":"n5","x":150,"y":0.8},{"s":"n5","x":155,"y":0.82},{"s":"n5","x":160,"y":0.808},{"s":"n5","x":165,"y":0.825},{"s":"n5","x":170,"y":0.81},{"s":"n5","x":175,"y":0.822},{"s":"n5","x":180,"y":0.805},{"s":"n5","x":185,"y":0.818},{"s":"n5","x":190,"y":0.83},{"s":"n5","x":195,"y":0.81},{"s":"n5","x":200,"y":0.825},{"s":"n5","x":205,"y":0.808},{"s":"n5","x":210,"y":0.82},{"s":"n5","x":215,"y":0.832},{"s":"n5","x":220,"y":0.812},{"s":"n5","x":225,"y":0.826},{"s":"n5","x":230,"y":0.808},{"s":"n5","x":235,"y":0.822},{"s":"n5","x":240,"y":0.835},{"s":"n5","x":245,"y":0.815},{"s":"n5","x":250,"y":0.828},{"s":"n5","x":255,"y":0.81},{"s":"n5","x":260,"y":0.824},{"s":"n5","x":265,"y":0.8},{"s":"n5","x":270,"y":0.818},{"s":"n5","x":275,"y":0.83},{"s":"n5","x":280,"y":0.812},{"s":"n5","x":285,"y":0.826},{"s":"n5","x":290,"y":0.808},{"s":"n5","x":295,"y":0.822},{"s":"n5","x":300,"y":0.834},{"s":"n5","x":305,"y":0.815},{"s":"n5","x":310,"y":0.828},{"s":"n5","x":315,"y":0.81},{"s":"n5","x":320,"y":0.824},{"s":"n5","x":325,"y":0.836},{"s":"n5","x":330,"y":0.815},{"s":"n5","x":335,"y":0.83},{"s":"n5","x":340,"y":0.812},{"s":"n5","x":345,"y":0.826},{"s":"n5","x":350,"y":0.838},{"s":"n5","x":355,"y":0.818},{"s":"n5","x":360,"y":0.832},{"s":"n5","x":365,"y":0.812},{"s":"n5","x":370,"y":0.828},{"s":"n5","x":375,"y":0.84},{"s":"n5","x":380,"y":0.82},{"s":"n5","x":385,"y":0.834},{"s":"n5","x":390,"y":0.815},{"s":"n5","x":395,"y":0.83},{"s":"n5","x":400,"y":0.842},{"s":"n5","x":405,"y":0.822},{"s":"n5","x":410,"y":0.836},{"s":"n5","x":415,"y":0.818},{"s":"n5","x":420,"y":0.832},{"s":"n5","x":425,"y":0.845},{"s":"n5","x":430,"y":0.824},{"s":"n5","x":435,"y":0.838},{"s":"n5","x":440,"y":0.82},{"s":"n5","x":445,"y":0.834},{"s":"n5","x":450,"y":0.815},{"s":"n5","x":455,"y":0.83},{"s":"n5","x":460,"y":0.842},{"s":"n5","x":465,"y":0.822},{"s":"n5","x":470,"y":0.836},{"s":"n5","x":475,"y":0.818},{"s":"n5","x":480,"y":0.832},{"s":"n5","x":485,"y":0.845},{"s":"n5","x":490,"y":0.825},{"s":"n5","x":495,"y":0.838},{"s":"n5","x":500,"y":0.76},
{"s":"n9","x":0,"y":0.785},{"s":"n9","x":2,"y":0.83},{"s":"n9","x":5,"y":0.85},{"s":"n9","x":10,"y":0.832},{"s":"n9","x":15,"y":0.862},{"s":"n9","x":20,"y":0.84},{"s":"n9","x":25,"y":0.828},{"s":"n9","x":30,"y":0.855},{"s":"n9","x":35,"y":0.838},{"s":"n9","x":40,"y":0.86},{"s":"n9","x":45,"y":0.83},{"s":"n9","x":50,"y":0.848},{"s":"n9","x":55,"y":0.825},{"s":"n9","x":60,"y":0.852},{"s":"n9","x":65,"y":0.84},{"s":"n9","x":70,"y":0.858},{"s":"n9","x":75,"y":0.828},{"s":"n9","x":80,"y":0.846},{"s":"n9","x":85,"y":0.862},{"s":"n9","x":90,"y":0.835},{"s":"n9","x":95,"y":0.855},{"s":"n9","x":100,"y":0.84},{"s":"n9","x":105,"y":0.862},{"s":"n9","x":110,"y":0.83},{"s":"n9","x":115,"y":0.856},{"s":"n9","x":120,"y":0.842},{"s":"n9","x":125,"y":0.865},{"s":"n9","x":130,"y":0.838},{"s":"n9","x":135,"y":0.858},{"s":"n9","x":140,"y":0.845},{"s":"n9","x":145,"y":0.832},{"s":"n9","x":150,"y":0.862},{"s":"n9","x":155,"y":0.848},{"s":"n9","x":160,"y":0.835},{"s":"n9","x":165,"y":0.858},{"s":"n9","x":170,"y":0.844},{"s":"n9","x":175,"y":0.866},{"s":"n9","x":180,"y":0.85},{"s":"n9","x":185,"y":0.838},{"s":"n9","x":190,"y":0.862},{"s":"n9","x":195,"y":0.846},{"s":"n9","x":200,"y":0.858},{"s":"n9","x":205,"y":0.836},{"s":"n9","x":210,"y":0.852},{"s":"n9","x":215,"y":0.864},{"s":"n9","x":220,"y":0.84},{"s":"n9","x":225,"y":0.856},{"s":"n9","x":230,"y":0.83},{"s":"n9","x":235,"y":0.85},{"s":"n9","x":240,"y":0.862},{"s":"n9","x":245,"y":0.842},{"s":"n9","x":250,"y":0.858},{"s":"n9","x":255,"y":0.835},{"s":"n9","x":260,"y":0.852},{"s":"n9","x":265,"y":0.866},{"s":"n9","x":270,"y":0.845},{"s":"n9","x":275,"y":0.86},{"s":"n9","x":280,"y":0.838},{"s":"n9","x":285,"y":0.855},{"s":"n9","x":290,"y":0.868},{"s":"n9","x":295,"y":0.848},{"s":"n9","x":300,"y":0.862},{"s":"n9","x":305,"y":0.84},{"s":"n9","x":310,"y":0.856},{"s":"n9","x":315,"y":0.87},{"s":"n9","x":320,"y":0.85},{"s":"n9","x":325,"y":0.864},{"s":"n9","x":330,"y":0.842},{"s":"n9","x":335,"y":0.858},{"s":"n9","x":340,"y":0.872},{"s":"n9","x":345,"y":0.85},{"s":"n9","x":350,"y":0.866},{"s":"n9","x":355,"y":0.845},{"s":"n9","x":360,"y":0.86},{"s":"n9","x":365,"y":0.875},{"s":"n9","x":370,"y":0.852},{"s":"n9","x":375,"y":0.868},{"s":"n9","x":380,"y":0.846},{"s":"n9","x":385,"y":0.862},{"s":"n9","x":390,"y":0.876},{"s":"n9","x":395,"y":0.855},{"s":"n9","x":400,"y":0.87},{"s":"n9","x":405,"y":0.848},{"s":"n9","x":410,"y":0.864},{"s":"n9","x":415,"y":0.878},{"s":"n9","x":420,"y":0.855},{"s":"n9","x":425,"y":0.872},{"s":"n9","x":430,"y":0.85},{"s":"n9","x":435,"y":0.866},{"s":"n9","x":440,"y":0.88},{"s":"n9","x":445,"y":0.858},{"s":"n9","x":450,"y":0.874},{"s":"n9","x":455,"y":0.852},{"s":"n9","x":460,"y":0.868},{"s":"n9","x":465,"y":0.882},{"s":"n9","x":470,"y":0.86},{"s":"n9","x":475,"y":0.876},{"s":"n9","x":480,"y":0.855},{"s":"n9","x":485,"y":0.87},{"s":"n9","x":490,"y":0.882},{"s":"n9","x":495,"y":0.862},{"s":"n9","x":498,"y":0.88},{"s":"n9","x":500,"y":0.832},
{"s":"t","x":0,"y":0.886},{"s":"t","x":1,"y":0.9},{"s":"t","x":2,"y":0.915},{"s":"t","x":3,"y":0.93},{"s":"t","x":4,"y":0.94},{"s":"t","x":6,"y":0.952},{"s":"t","x":8,"y":0.96},{"s":"t","x":10,"y":0.968},{"s":"t","x":13,"y":0.975},{"s":"t","x":16,"y":0.98},{"s":"t","x":20,"y":0.984},{"s":"t","x":25,"y":0.988},{"s":"t","x":30,"y":0.99},{"s":"t","x":40,"y":0.993},{"s":"t","x":50,"y":0.995},{"s":"t","x":60,"y":0.997},{"s":"t","x":70,"y":0.998},{"s":"t","x":80,"y":0.999},{"s":"t","x":90,"y":1},{"s":"t","x":100,"y":1},{"s":"t","x":110,"y":1},{"s":"t","x":120,"y":1},{"s":"t","x":130,"y":1},{"s":"t","x":140,"y":1},{"s":"t","x":150,"y":1},{"s":"t","x":160,"y":1},{"s":"t","x":170,"y":1},{"s":"t","x":180,"y":1},{"s":"t","x":190,"y":1},{"s":"t","x":200,"y":1},{"s":"t","x":210,"y":1},{"s":"t","x":220,"y":1},{"s":"t","x":230,"y":1},{"s":"t","x":240,"y":1},{"s":"t","x":250,"y":1},{"s":"t","x":260,"y":1},{"s":"t","x":270,"y":1},{"s":"t","x":280,"y":1},{"s":"t","x":290,"y":1},{"s":"t","x":300,"y":1},{"s":"t","x":310,"y":1},{"s":"t","x":320,"y":1},{"s":"t","x":330,"y":1},{"s":"t","x":340,"y":1},{"s":"t","x":350,"y":1},{"s":"t","x":360,"y":1},{"s":"t","x":370,"y":1},{"s":"t","x":380,"y":1},{"s":"t","x":390,"y":1},{"s":"t","x":400,"y":1},{"s":"t","x":410,"y":1},{"s":"t","x":420,"y":1},{"s":"t","x":430,"y":1},{"s":"t","x":440,"y":1},{"s":"t","x":450,"y":1},{"s":"t","x":460,"y":1},{"s":"t","x":470,"y":1},{"s":"t","x":480,"y":1},{"s":"t","x":490,"y":1},{"s":"t","x":500,"y":1}
],
"p42": [
{"s":"n1","x":0,"y":0.905},{"s":"n1","x":10,"y":0.9},{"s":"n1","x":20,"y":0.908},{"s":"n1","x":30,"y":0.895},{"s":"n1","x":40,"y":0.9},{"s":"n1","x":50,"y":0.905},{"s":"n1","x":60,"y":0.9},{"s":"n1","x":70,"y":0.895},{"s":"n1","x":80,"y":0.902},{"s":"n1","x":90,"y":0.898},{"s":"n1","x":100,"y":0.905},{"s":"n1","x":110,"y":0.9},{"s":"n1","x":120,"y":0.908},{"s":"n1","x":130,"y":0.902},{"s":"n1","x":140,"y":0.898},{"s":"n1","x":150,"y":0.905},{"s":"n1","x":160,"y":0.91},{"s":"n1","x":170,"y":0.905},{"s":"n1","x":180,"y":0.9},{"s":"n1","x":190,"y":0.908},{"s":"n1","x":200,"y":0.912},{"s":"n1","x":210,"y":0.905},{"s":"n1","x":220,"y":0.9},{"s":"n1","x":230,"y":0.908},{"s":"n1","x":240,"y":0.902},{"s":"n1","x":250,"y":0.91},{"s":"n1","x":260,"y":0.905},{"s":"n1","x":270,"y":0.9},{"s":"n1","x":280,"y":0.895},{"s":"n1","x":290,"y":0.9},{"s":"n1","x":300,"y":0.905},{"s":"n1","x":310,"y":0.91},{"s":"n1","x":320,"y":0.902},{"s":"n1","x":330,"y":0.905},{"s":"n1","x":340,"y":0.9},{"s":"n1","x":350,"y":0.895},{"s":"n1","x":360,"y":0.89},{"s":"n1","x":370,"y":0.895},{"s":"n1","x":380,"y":0.9},{"s":"n1","x":390,"y":0.893},{"s":"n1","x":400,"y":0.898},{"s":"n1","x":410,"y":0.905},{"s":"n1","x":420,"y":0.9},{"s":"n1","x":430,"y":0.898},{"s":"n1","x":440,"y":0.905},{"s":"n1","x":450,"y":0.9},{"s":"n1","x":460,"y":0.908},{"s":"n1","x":470,"y":0.902},{"s":"n1","x":480,"y":0.898},{"s":"n1","x":490,"y":0.89},{"s":"n1","x":500,"y":0.88},
{"s":"n5","x":0,"y":0.93},{"s":"n5","x":10,"y":0.935},{"s":"n5","x":20,"y":0.932},{"s":"n5","x":30,"y":0.938},{"s":"n5","x":40,"y":0.934},{"s":"n5","x":50,"y":0.936},{"s":"n5","x":60,"y":0.932},{"s":"n5","x":70,"y":0.937},{"s":"n5","x":80,"y":0.934},{"s":"n5","x":90,"y":0.938},{"s":"n5","x":100,"y":0.935},{"s":"n5","x":110,"y":0.932},{"s":"n5","x":120,"y":0.937},{"s":"n5","x":130,"y":0.934},{"s":"n5","x":140,"y":0.938},{"s":"n5","x":150,"y":0.935},{"s":"n5","x":160,"y":0.932},{"s":"n5","x":170,"y":0.936},{"s":"n5","x":180,"y":0.938},{"s":"n5","x":190,"y":0.934},{"s":"n5","x":200,"y":0.937},{"s":"n5","x":210,"y":0.933},{"s":"n5","x":220,"y":0.936},{"s":"n5","x":230,"y":0.938},{"s":"n5","x":240,"y":0.934},{"s":"n5","x":250,"y":0.936},{"s":"n5","x":260,"y":0.932},{"s":"n5","x":270,"y":0.935},{"s":"n5","x":280,"y":0.938},{"s":"n5","x":290,"y":0.934},{"s":"n5","x":300,"y":0.936},{"s":"n5","x":310,"y":0.933},{"s":"n5","x":320,"y":0.937},{"s":"n5","x":330,"y":0.934},{"s":"n5","x":340,"y":0.936},{"s":"n5","x":350,"y":0.932},{"s":"n5","x":360,"y":0.935},{"s":"n5","x":370,"y":0.933},{"s":"n5","x":380,"y":0.936},{"s":"n5","x":390,"y":0.932},{"s":"n5","x":400,"y":0.934},{"s":"n5","x":410,"y":0.93},{"s":"n5","x":420,"y":0.933},{"s":"n5","x":430,"y":0.93},{"s":"n5","x":440,"y":0.932},{"s":"n5","x":450,"y":0.928},{"s":"n5","x":460,"y":0.93},{"s":"n5","x":470,"y":0.927},{"s":"n5","x":480,"y":0.929},{"s":"n5","x":490,"y":0.925},{"s":"n5","x":500,"y":0.922},
{"s":"n9","x":0,"y":0.955},{"s":"n9","x":10,"y":0.962},{"s":"n9","x":20,"y":0.958},{"s":"n9","x":30,"y":0.963},{"s":"n9","x":40,"y":0.96},{"s":"n9","x":50,"y":0.957},{"s":"n9","x":60,"y":0.962},{"s":"n9","x":70,"y":0.958},{"s":"n9","x":80,"y":0.961},{"s":"n9","x":90,"y":0.956},{"s":"n9","x":100,"y":0.96},{"s":"n9","x":110,"y":0.963},{"s":"n9","x":120,"y":0.958},{"s":"n9","x":130,"y":0.961},{"s":"n9","x":140,"y":0.957},{"s":"n9","x":150,"y":0.96},{"s":"n9","x":160,"y":0.962},{"s":"n9","x":170,"y":0.958},{"s":"n9","x":180,"y":0.96},{"s":"n9","x":190,"y":0.963},{"s":"n9","x":200,"y":0.957},{"s":"n9","x":210,"y":0.96},{"s":"n9","x":220,"y":0.962},{"s":"n9","x":230,"y":0.958},{"s":"n9","x":240,"y":0.96},{"s":"n9","x":250,"y":0.956},{"s":"n9","x":260,"y":0.959},{"s":"n9","x":270,"y":0.962},{"s":"n9","x":280,"y":0.958},{"s":"n9","x":290,"y":0.961},{"s":"n9","x":300,"y":0.957},{"s":"n9","x":310,"y":0.96},{"s":"n9","x":320,"y":0.963},{"s":"n9","x":330,"y":0.958},{"s":"n9","x":340,"y":0.96},{"s":"n9","x":350,"y":0.957},{"s":"n9","x":360,"y":0.955},{"s":"n9","x":370,"y":0.958},{"s":"n9","x":380,"y":0.954},{"s":"n9","x":390,"y":0.957},{"s":"n9","x":400,"y":0.953},{"s":"n9","x":410,"y":0.956},{"s":"n9","x":420,"y":0.952},{"s":"n9","x":430,"y":0.955},{"s":"n9","x":440,"y":0.951},{"s":"n9","x":450,"y":0.953},{"s":"n9","x":460,"y":0.95},{"s":"n9","x":470,"y":0.952},{"s":"n9","x":480,"y":0.948},{"s":"n9","x":490,"y":0.95},{"s":"n9","x":500,"y":0.945},
{"s":"t","x":0,"y":0.995},{"s":"t","x":10,"y":1},{"s":"t","x":20,"y":1},{"s":"t","x":30,"y":1},{"s":"t","x":40,"y":1},{"s":"t","x":50,"y":1},{"s":"t","x":60,"y":1},{"s":"t","x":70,"y":1},{"s":"t","x":80,"y":1},{"s":"t","x":90,"y":1},{"s":"t","x":100,"y":1},{"s":"t","x":110,"y":1},{"s":"t","x":120,"y":1},{"s":"t","x":130,"y":1},{"s":"t","x":140,"y":1},{"s":"t","x":150,"y":1},{"s":"t","x":160,"y":1},{"s":"t","x":170,"y":1},{"s":"t","x":180,"y":1},{"s":"t","x":190,"y":1},{"s":"t","x":200,"y":1},{"s":"t","x":210,"y":1},{"s":"t","x":220,"y":1},{"s":"t","x":230,"y":1},{"s":"t","x":240,"y":1},{"s":"t","x":250,"y":1},{"s":"t","x":260,"y":1},{"s":"t","x":270,"y":1},{"s":"t","x":280,"y":1},{"s":"t","x":290,"y":1},{"s":"t","x":300,"y":1},{"s":"t","x":310,"y":1},{"s":"t","x":320,"y":1},{"s":"t","x":330,"y":1},{"s":"t","x":340,"y":1},{"s":"t","x":350,"y":1},{"s":"t","x":360,"y":1},{"s":"t","x":370,"y":1},{"s":"t","x":380,"y":1},{"s":"t","x":390,"y":1},{"s":"t","x":400,"y":1},{"s":"t","x":410,"y":1},{"s":"t","x":420,"y":1},{"s":"t","x":430,"y":1},{"s":"t","x":440,"y":1},{"s":"t","x":450,"y":1},{"s":"t","x":460,"y":1},{"s":"t","x":470,"y":1},{"s":"t","x":480,"y":1},{"s":"t","x":490,"y":1},{"s":"t","x":500,"y":1}
],
"p43": [
{"s":"n1","x":0,"y":0.955},{"s":"n1","x":10,"y":0.95},{"s":"n1","x":20,"y":0.948},{"s":"n1","x":30,"y":0.945},{"s":"n1","x":40,"y":0.942},{"s":"n1","x":50,"y":0.946},{"s":"n1","x":60,"y":0.94},{"s":"n1","x":70,"y":0.943},{"s":"n1","x":80,"y":0.938},{"s":"n1","x":90,"y":0.942},{"s":"n1","x":100,"y":0.935},{"s":"n1","x":110,"y":0.93},{"s":"n1","x":120,"y":0.938},{"s":"n1","x":130,"y":0.942},{"s":"n1","x":140,"y":0.936},{"s":"n1","x":150,"y":0.94},{"s":"n1","x":160,"y":0.944},{"s":"n1","x":170,"y":0.94},{"s":"n1","x":180,"y":0.936},{"s":"n1","x":190,"y":0.94},{"s":"n1","x":200,"y":0.943},{"s":"n1","x":210,"y":0.938},{"s":"n1","x":220,"y":0.942},{"s":"n1","x":230,"y":0.936},{"s":"n1","x":240,"y":0.94},{"s":"n1","x":250,"y":0.944},{"s":"n1","x":260,"y":0.938},{"s":"n1","x":270,"y":0.935},{"s":"n1","x":280,"y":0.932},{"s":"n1","x":290,"y":0.936},{"s":"n1","x":300,"y":0.94},{"s":"n1","x":310,"y":0.935},{"s":"n1","x":320,"y":0.938},{"s":"n1","x":330,"y":0.942},{"s":"n1","x":340,"y":0.938},{"s":"n1","x":350,"y":0.935},{"s":"n1","x":360,"y":0.94},{"s":"n1","x":370,"y":0.943},{"s":"n1","x":380,"y":0.938},{"s":"n1","x":390,"y":0.942},{"s":"n1","x":400,"y":0.945},{"s":"n1","x":410,"y":0.94},{"s":"n1","x":420,"y":0.936},{"s":"n1","x":430,"y":0.94},{"s":"n1","x":440,"y":0.938},{"s":"n1","x":450,"y":0.935},{"s":"n1","x":460,"y":0.938},{"s":"n1","x":470,"y":0.934},{"s":"n1","x":480,"y":0.936},{"s":"n1","x":490,"y":0.932},{"s":"n1","x":500,"y":0.93},
{"s":"n5","x":0,"y":0.955},{"s":"n5","x":10,"y":0.958},{"s":"n5","x":20,"y":0.955},{"s":"n5","x":30,"y":0.952},{"s":"n5","x":40,"y":0.956},{"s":"n5","x":50,"y":0.953},{"s":"n5","x":60,"y":0.957},{"s":"n5","x":70,"y":0.954},{"s":"n5","x":80,"y":0.952},{"s":"n5","x":90,"y":0.955},{"s":"n5","x":100,"y":0.958},{"s":"n5","x":110,"y":0.954},{"s":"n5","x":120,"y":0.952},{"s":"n5","x":130,"y":0.956},{"s":"n5","x":140,"y":0.953},{"s":"n5","x":150,"y":0.955},{"s":"n5","x":160,"y":0.958},{"s":"n5","x":170,"y":0.954},{"s":"n5","x":180,"y":0.952},{"s":"n5","x":190,"y":0.955},{"s":"n5","x":200,"y":0.957},{"s":"n5","x":210,"y":0.953},{"s":"n5","x":220,"y":0.951},{"s":"n5","x":230,"y":0.955},{"s":"n5","x":240,"y":0.952},{"s":"n5","x":250,"y":0.956},{"s":"n5","x":260,"y":0.953},{"s":"n5","x":270,"y":0.955},{"s":"n5","x":280,"y":0.951},{"s":"n5","x":290,"y":0.954},{"s":"n5","x":300,"y":0.952},{"s":"n5","x":310,"y":0.955},{"s":"n5","x":320,"y":0.953},{"s":"n5","x":330,"y":0.951},{"s":"n5","x":340,"y":0.955},{"s":"n5","x":350,"y":0.952},{"s":"n5","x":360,"y":0.954},{"s":"n5","x":370,"y":0.95},{"s":"n5","x":380,"y":0.953},{"s":"n5","x":390,"y":0.951},{"s":"n5","x":400,"y":0.954},{"s":"n5","x":410,"y":0.95},{"s":"n5","x":420,"y":0.952},{"s":"n5","x":430,"y":0.948},{"s":"n5","x":440,"y":0.951},{"s":"n5","x":450,"y":0.949},{"s":"n5","x":460,"y":0.952},{"s":"n5","x":470,"y":0.948},{"s":"n5","x":480,"y":0.95},{"s":"n5","x":490,"y":0.946},{"s":"n5","x":500,"y":0.944},
{"s":"n9","x":0,"y":0.97},{"s":"n9","x":10,"y":0.975},{"s":"n9","x":20,"y":0.972},{"s":"n9","x":30,"y":0.976},{"s":"n9","x":40,"y":0.973},{"s":"n9","x":50,"y":0.975},{"s":"n9","x":60,"y":0.972},{"s":"n9","x":70,"y":0.976},{"s":"n9","x":80,"y":0.974},{"s":"n9","x":90,"y":0.972},{"s":"n9","x":100,"y":0.975},{"s":"n9","x":110,"y":0.973},{"s":"n9","x":120,"y":0.976},{"s":"n9","x":130,"y":0.974},{"s":"n9","x":140,"y":0.972},{"s":"n9","x":150,"y":0.975},{"s":"n9","x":160,"y":0.973},{"s":"n9","x":170,"y":0.976},{"s":"n9","x":180,"y":0.974},{"s":"n9","x":190,"y":0.972},{"s":"n9","x":200,"y":0.975},{"s":"n9","x":210,"y":0.973},{"s":"n9","x":220,"y":0.976},{"s":"n9","x":230,"y":0.974},{"s":"n9","x":240,"y":0.972},{"s":"n9","x":250,"y":0.975},{"s":"n9","x":260,"y":0.973},{"s":"n9","x":270,"y":0.976},{"s":"n9","x":280,"y":0.974},{"s":"n9","x":290,"y":0.972},{"s":"n9","x":300,"y":0.975},{"s":"n9","x":310,"y":0.973},{"s":"n9","x":320,"y":0.976},{"s":"n9","x":330,"y":0.974},{"s":"n9","x":340,"y":0.972},{"s":"n9","x":350,"y":0.975},{"s":"n9","x":360,"y":0.973},{"s":"n9","x":370,"y":0.976},{"s":"n9","x":380,"y":0.974},{"s":"n9","x":390,"y":0.972},{"s":"n9","x":400,"y":0.975},{"s":"n9","x":410,"y":0.973},{"s":"n9","x":420,"y":0.972},{"s":"n9","x":430,"y":0.974},{"s":"n9","x":440,"y":0.971},{"s":"n9","x":450,"y":0.973},{"s":"n9","x":460,"y":0.97},{"s":"n9","x":470,"y":0.972},{"s":"n9","x":480,"y":0.969},{"s":"n9","x":490,"y":0.971},{"s":"n9","x":500,"y":0.968},
{"s":"t","x":0,"y":0.99},{"s":"t","x":10,"y":1},{"s":"t","x":20,"y":1},{"s":"t","x":30,"y":1},{"s":"t","x":40,"y":1},{"s":"t","x":50,"y":1},{"s":"t","x":60,"y":1},{"s":"t","x":70,"y":1},{"s":"t","x":80,"y":1},{"s":"t","x":90,"y":1},{"s":"t","x":100,"y":1},{"s":"t","x":110,"y":1},{"s":"t","x":120,"y":1},{"s":"t","x":130,"y":1},{"s":"t","x":140,"y":1},{"s":"t","x":150,"y":1},{"s":"t","x":160,"y":1},{"s":"t","x":170,"y":1},{"s":"t","x":180,"y":1},{"s":"t","x":190,"y":1},{"s":"t","x":200,"y":1},{"s":"t","x":210,"y":1},{"s":"t","x":220,"y":1},{"s":"t","x":230,"y":1},{"s":"t","x":240,"y":1},{"s":"t","x":250,"y":1},{"s":"t","x":260,"y":1},{"s":"t","x":270,"y":1},{"s":"t","x":280,"y":1},{"s":"t","x":290,"y":1},{"s":"t","x":300,"y":1},{"s":"t","x":310,"y":1},{"s":"t","x":320,"y":1},{"s":"t","x":330,"y":1},{"s":"t","x":340,"y":1},{"s":"t","x":350,"y":1},{"s":"t","x":360,"y":1},{"s":"t","x":370,"y":1},{"s":"t","x":380,"y":1},{"s":"t","x":390,"y":1},{"s":"t","x":400,"y":1},{"s":"t","x":410,"y":1},{"s":"t","x":420,"y":1},{"s":"t","x":430,"y":1},{"s":"t","x":440,"y":1},{"s":"t","x":450,"y":1},{"s":"t","x":460,"y":1},{"s":"t","x":470,"y":1},{"s":"t","x":480,"y":1},{"s":"t","x":490,"y":1},{"s":"t","x":500,"y":1}
]
}
}
